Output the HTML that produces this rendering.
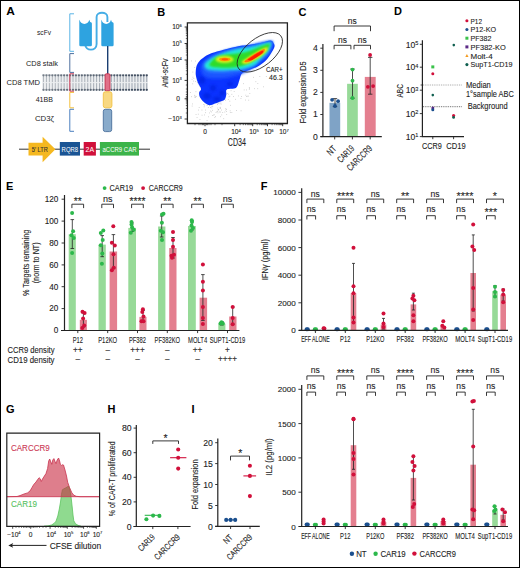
<!DOCTYPE html>
<html><head><meta charset="utf-8">
<style>
html,body{margin:0;padding:0;background:#fff;}
svg{display:block;}
text{font-family:"Liberation Sans",sans-serif;stroke:#222;stroke-width:0.1px;}
text[font-weight="bold"],text[stroke="none"],g[stroke="none"] text{stroke:none;}
text[fill="#cc3a55"]{stroke:#cc3a55;}
text[fill="#55c160"]{stroke:#55c160;}
</style></head><body>
<svg width="520" height="568" viewBox="0 0 520 568">
<defs>
<filter id="bl1" x="-20%" y="-20%" width="140%" height="140%"><feGaussianBlur stdDeviation="0.7"/></filter><filter id="bl2" x="-20%" y="-20%" width="140%" height="140%"><feGaussianBlur stdDeviation="1.0"/></filter><filter id="bl3" x="-30%" y="-30%" width="160%" height="160%"><feGaussianBlur stdDeviation="1.8"/></filter>
</defs>
<rect x="0" y="0" width="520" height="568" fill="#fff"/>


<!-- ============ PANEL A ============ -->
<g id="A">
<text x="6.3" y="15.4" font-size="11" font-weight="bold" stroke="none" textLength="8.6" lengthAdjust="spacingAndGlyphs">A</text>
<g font-size="7.8" fill="#222" stroke="none">
<text x="37" y="34.6" textLength="14" lengthAdjust="spacingAndGlyphs">scFv</text>
<text x="26" y="66" textLength="32" lengthAdjust="spacingAndGlyphs">CD8 stalk</text>
<text x="6.5" y="85.4" textLength="33.5" lengthAdjust="spacingAndGlyphs">CD8 TMD</text>
<text x="35.7" y="101.7" textLength="17.3" lengthAdjust="spacingAndGlyphs">41BB</text>
<text x="35" y="120.5" textLength="19" lengthAdjust="spacingAndGlyphs">CD3ζ</text>
</g>
<!-- membrane -->
<g><rect x="42" y="74" width="106" height="17" fill="#eceef0"/><rect x="43.00" y="75.5" width="1" height="6.6" fill="#b4b9bf"/><rect x="43.00" y="83.1" width="1" height="6.6" fill="#b4b9bf"/><circle cx="43.50" cy="75.3" r="1.15" fill="#737c87"/><circle cx="43.50" cy="89.8" r="1.15" fill="#737c87"/><rect x="45.95" y="75.5" width="1" height="6.6" fill="#b3b8be"/><rect x="45.95" y="83.1" width="1" height="6.6" fill="#b3b8be"/><circle cx="46.45" cy="75.3" r="1.15" fill="#727b86"/><circle cx="46.45" cy="89.8" r="1.15" fill="#727b86"/><rect x="48.90" y="75.5" width="1" height="6.6" fill="#b2b8be"/><rect x="48.90" y="83.1" width="1" height="6.6" fill="#b2b8be"/><circle cx="49.40" cy="75.3" r="1.15" fill="#707985"/><circle cx="49.40" cy="89.8" r="1.15" fill="#707985"/><rect x="51.85" y="75.5" width="1" height="6.6" fill="#b2b7bd"/><rect x="51.85" y="83.1" width="1" height="6.6" fill="#b2b7bd"/><circle cx="52.35" cy="75.3" r="1.15" fill="#6f7883"/><circle cx="52.35" cy="89.8" r="1.15" fill="#6f7883"/><rect x="54.80" y="75.5" width="1" height="6.6" fill="#b1b6bd"/><rect x="54.80" y="83.1" width="1" height="6.6" fill="#b1b6bd"/><circle cx="55.30" cy="75.3" r="1.15" fill="#6d7782"/><circle cx="55.30" cy="89.8" r="1.15" fill="#6d7782"/><rect x="57.75" y="75.5" width="1" height="6.6" fill="#b0b6bc"/><rect x="57.75" y="83.1" width="1" height="6.6" fill="#b0b6bc"/><circle cx="58.25" cy="75.3" r="1.15" fill="#6c7581"/><circle cx="58.25" cy="89.8" r="1.15" fill="#6c7581"/><rect x="60.70" y="75.5" width="1" height="6.6" fill="#afb5bc"/><rect x="60.70" y="83.1" width="1" height="6.6" fill="#afb5bc"/><circle cx="61.20" cy="75.3" r="1.15" fill="#6a7480"/><circle cx="61.20" cy="89.8" r="1.15" fill="#6a7480"/><rect x="63.65" y="75.5" width="1" height="6.6" fill="#aeb4bb"/><rect x="63.65" y="83.1" width="1" height="6.6" fill="#aeb4bb"/><circle cx="64.15" cy="75.3" r="1.15" fill="#69727f"/><circle cx="64.15" cy="89.8" r="1.15" fill="#69727f"/><rect x="66.60" y="75.5" width="1" height="6.6" fill="#aeb4bb"/><rect x="66.60" y="83.1" width="1" height="6.6" fill="#aeb4bb"/><circle cx="67.10" cy="75.3" r="1.15" fill="#67717e"/><circle cx="67.10" cy="89.8" r="1.15" fill="#67717e"/><rect x="69.55" y="75.5" width="1" height="6.6" fill="#adb3ba"/><rect x="69.55" y="83.1" width="1" height="6.6" fill="#adb3ba"/><circle cx="70.05" cy="75.3" r="1.15" fill="#66707c"/><circle cx="70.05" cy="89.8" r="1.15" fill="#66707c"/><rect x="72.50" y="75.5" width="1" height="6.6" fill="#acb2ba"/><rect x="72.50" y="83.1" width="1" height="6.6" fill="#acb2ba"/><circle cx="73.00" cy="75.3" r="1.15" fill="#646e7b"/><circle cx="73.00" cy="89.8" r="1.15" fill="#646e7b"/><rect x="75.45" y="75.5" width="1" height="6.6" fill="#abb1b9"/><rect x="75.45" y="83.1" width="1" height="6.6" fill="#abb1b9"/><circle cx="75.95" cy="75.3" r="1.15" fill="#636d7a"/><circle cx="75.95" cy="89.8" r="1.15" fill="#636d7a"/><rect x="78.40" y="75.5" width="1" height="6.6" fill="#aab1b8"/><rect x="78.40" y="83.1" width="1" height="6.6" fill="#aab1b8"/><circle cx="78.90" cy="75.3" r="1.15" fill="#616c79"/><circle cx="78.90" cy="89.8" r="1.15" fill="#616c79"/><rect x="81.35" y="75.5" width="1" height="6.6" fill="#aab0b8"/><rect x="81.35" y="83.1" width="1" height="6.6" fill="#aab0b8"/><circle cx="81.85" cy="75.3" r="1.15" fill="#606a78"/><circle cx="81.85" cy="89.8" r="1.15" fill="#606a78"/><rect x="84.30" y="75.5" width="1" height="6.6" fill="#a9afb7"/><rect x="84.30" y="83.1" width="1" height="6.6" fill="#a9afb7"/><circle cx="84.80" cy="75.3" r="1.15" fill="#5e6977"/><circle cx="84.80" cy="89.8" r="1.15" fill="#5e6977"/><rect x="87.25" y="75.5" width="1" height="6.6" fill="#a8afb7"/><rect x="87.25" y="83.1" width="1" height="6.6" fill="#a8afb7"/><circle cx="87.75" cy="75.3" r="1.15" fill="#5d6775"/><circle cx="87.75" cy="89.8" r="1.15" fill="#5d6775"/><rect x="90.20" y="75.5" width="1" height="6.6" fill="#a7aeb6"/><rect x="90.20" y="83.1" width="1" height="6.6" fill="#a7aeb6"/><circle cx="90.70" cy="75.3" r="1.15" fill="#5b6674"/><circle cx="90.70" cy="89.8" r="1.15" fill="#5b6674"/><rect x="93.15" y="75.5" width="1" height="6.6" fill="#a6adb6"/><rect x="93.15" y="83.1" width="1" height="6.6" fill="#a6adb6"/><circle cx="93.65" cy="75.3" r="1.15" fill="#5a6573"/><circle cx="93.65" cy="89.8" r="1.15" fill="#5a6573"/><rect x="96.10" y="75.5" width="1" height="6.6" fill="#a6adb5"/><rect x="96.10" y="83.1" width="1" height="6.6" fill="#a6adb5"/><circle cx="96.60" cy="75.3" r="1.15" fill="#586372"/><circle cx="96.60" cy="89.8" r="1.15" fill="#586372"/><rect x="99.05" y="75.5" width="1" height="6.6" fill="#a5acb5"/><rect x="99.05" y="83.1" width="1" height="6.6" fill="#a5acb5"/><circle cx="99.55" cy="75.3" r="1.15" fill="#576271"/><circle cx="99.55" cy="89.8" r="1.15" fill="#576271"/><rect x="102.00" y="75.5" width="1" height="6.6" fill="#a4abb4"/><rect x="102.00" y="83.1" width="1" height="6.6" fill="#a4abb4"/><circle cx="102.50" cy="75.3" r="1.15" fill="#556170"/><circle cx="102.50" cy="89.8" r="1.15" fill="#556170"/><rect x="104.95" y="75.5" width="1" height="6.6" fill="#a3abb4"/><rect x="104.95" y="83.1" width="1" height="6.6" fill="#a3abb4"/><circle cx="105.45" cy="75.3" r="1.15" fill="#545f6e"/><circle cx="105.45" cy="89.8" r="1.15" fill="#545f6e"/><rect x="107.90" y="75.5" width="1" height="6.6" fill="#a2aab3"/><rect x="107.90" y="83.1" width="1" height="6.6" fill="#a2aab3"/><circle cx="108.40" cy="75.3" r="1.15" fill="#525e6d"/><circle cx="108.40" cy="89.8" r="1.15" fill="#525e6d"/><rect x="110.85" y="75.5" width="1" height="6.6" fill="#a2a9b3"/><rect x="110.85" y="83.1" width="1" height="6.6" fill="#a2a9b3"/><circle cx="111.35" cy="75.3" r="1.15" fill="#515c6c"/><circle cx="111.35" cy="89.8" r="1.15" fill="#515c6c"/><rect x="113.80" y="75.5" width="1" height="6.6" fill="#a1a9b2"/><rect x="113.80" y="83.1" width="1" height="6.6" fill="#a1a9b2"/><circle cx="114.30" cy="75.3" r="1.15" fill="#4f5b6b"/><circle cx="114.30" cy="89.8" r="1.15" fill="#4f5b6b"/><rect x="116.75" y="75.5" width="1" height="6.6" fill="#a0a8b1"/><rect x="116.75" y="83.1" width="1" height="6.6" fill="#a0a8b1"/><circle cx="117.25" cy="75.3" r="1.15" fill="#4e5a6a"/><circle cx="117.25" cy="89.8" r="1.15" fill="#4e5a6a"/><rect x="119.70" y="75.5" width="1" height="6.6" fill="#9fa7b1"/><rect x="119.70" y="83.1" width="1" height="6.6" fill="#9fa7b1"/><circle cx="120.20" cy="75.3" r="1.15" fill="#4c5869"/><circle cx="120.20" cy="89.8" r="1.15" fill="#4c5869"/><rect x="122.65" y="75.5" width="1" height="6.6" fill="#9ea6b0"/><rect x="122.65" y="83.1" width="1" height="6.6" fill="#9ea6b0"/><circle cx="123.15" cy="75.3" r="1.15" fill="#4b5767"/><circle cx="123.15" cy="89.8" r="1.15" fill="#4b5767"/><rect x="125.60" y="75.5" width="1" height="6.6" fill="#9ea6b0"/><rect x="125.60" y="83.1" width="1" height="6.6" fill="#9ea6b0"/><circle cx="126.10" cy="75.3" r="1.15" fill="#495666"/><circle cx="126.10" cy="89.8" r="1.15" fill="#495666"/><rect x="128.55" y="75.5" width="1" height="6.6" fill="#9da5af"/><rect x="128.55" y="83.1" width="1" height="6.6" fill="#9da5af"/><circle cx="129.05" cy="75.3" r="1.15" fill="#485465"/><circle cx="129.05" cy="89.8" r="1.15" fill="#485465"/><rect x="131.50" y="75.5" width="1" height="6.6" fill="#9ca4af"/><rect x="131.50" y="83.1" width="1" height="6.6" fill="#9ca4af"/><circle cx="132.00" cy="75.3" r="1.15" fill="#465364"/><circle cx="132.00" cy="89.8" r="1.15" fill="#465364"/><rect x="134.45" y="75.5" width="1" height="6.6" fill="#9ba4ae"/><rect x="134.45" y="83.1" width="1" height="6.6" fill="#9ba4ae"/><circle cx="134.95" cy="75.3" r="1.15" fill="#455163"/><circle cx="134.95" cy="89.8" r="1.15" fill="#455163"/><rect x="137.40" y="75.5" width="1" height="6.6" fill="#9aa3ae"/><rect x="137.40" y="83.1" width="1" height="6.6" fill="#9aa3ae"/><circle cx="137.90" cy="75.3" r="1.15" fill="#435062"/><circle cx="137.90" cy="89.8" r="1.15" fill="#435062"/><rect x="140.35" y="75.5" width="1" height="6.6" fill="#9aa2ad"/><rect x="140.35" y="83.1" width="1" height="6.6" fill="#9aa2ad"/><circle cx="140.85" cy="75.3" r="1.15" fill="#424f60"/><circle cx="140.85" cy="89.8" r="1.15" fill="#424f60"/><rect x="143.30" y="75.5" width="1" height="6.6" fill="#99a2ad"/><rect x="143.30" y="83.1" width="1" height="6.6" fill="#99a2ad"/><circle cx="143.80" cy="75.3" r="1.15" fill="#404d5f"/><circle cx="143.80" cy="89.8" r="1.15" fill="#404d5f"/><rect x="146.25" y="75.5" width="1" height="6.6" fill="#98a1ac"/><rect x="146.25" y="83.1" width="1" height="6.6" fill="#98a1ac"/><circle cx="146.75" cy="75.3" r="1.15" fill="#3f4c5e"/><circle cx="146.75" cy="89.8" r="1.15" fill="#3f4c5e"/></g>
<!-- brackets -->
<g fill="none" stroke-width="1">
<path d="M74,13.8 H69.8 V51.3 H74" stroke="#5ab4e6"/>
<path d="M74,53.6 H69.8 V72.4 H74" stroke="#4d6f9e"/>
<path d="M74,73.8 H69.8 V91.2 H74" stroke="#d0405c"/>
<path d="M74,92.4 H69.8 V107.8 H74" stroke="#f4c13e"/>
<path d="M74,109.3 H69.8 V131.3 H74" stroke="#4a7fbf"/>
</g>
<!-- scFv -->
<path d="M85.2,44 C85.2,51.5 96.6,51.5 96.6,44 V17 C96.6,11.3 107.4,11.3 107.4,17 V22" fill="none" stroke="#45ade6" stroke-width="1.9"/>
<path d="M79.3,20.3 L79.5,19.8 Q80.5,23.6 84.4,23.9 Q88.30000000000001,23.6 89.30000000000001,19.7 L90.20000000000002,21.9 Q91.9,22.3 91.9,23.5 V45 Q91.9,46.2 90.60000000000001,46.2 H80.6 Q79.3,46.2 79.3,45 Z" fill="#2ea3e0"/>
<path d="M101.3,20.3 L101.5,19.8 Q102.5,23.6 106.2,23.9 Q110.0,23.6 111.0,19.7 L111.9,21.9 Q113.6,22.3 113.6,23.5 V45 Q113.6,46.2 112.3,46.2 H102.6 Q101.3,46.2 101.3,45 Z" fill="#2ea3e0"/>
<line x1="107.7" y1="46" x2="107.7" y2="74" stroke="#1b3f72" stroke-width="1.4"/>
<rect x="105.1" y="73.8" width="4.9" height="17" rx="1.2" fill="#e07088" stroke="#c8324f" stroke-width="0.9"/>
<rect x="103.3" y="91.8" width="8.6" height="16" rx="2" fill="#f8d882" stroke="#f2c242" stroke-width="0.9"/>
<rect x="103.3" y="109.3" width="8.4" height="22.3" rx="2" fill="#89abcb" stroke="#4a6f9c" stroke-width="0.9"/>
<!-- construct -->
<line x1="19" y1="149.2" x2="150" y2="149.2" stroke="#333" stroke-width="1"/>
<path d="M28.5,142.8 H42.6 V136.7 L55.4,149.2 L42.6,162.3 V155.6 H28.5 Z" fill="#f5b820"/>
<text x="31.8" y="151.6" font-size="6.5" fill="#333" textLength="16" lengthAdjust="spacingAndGlyphs">5' LTR</text>
<rect x="59.8" y="142" width="20.2" height="13.6" fill="#1a5494"/>
<text x="61.6" y="151.6" font-size="6.5" fill="#fff" stroke="none" textLength="16.5" lengthAdjust="spacingAndGlyphs">RQR8</text>
<rect x="83.7" y="142" width="12.2" height="13.6" fill="#d0103a"/>
<text x="85.6" y="151.6" font-size="6.5" fill="#fff" stroke="none" textLength="8.5" lengthAdjust="spacingAndGlyphs">2A</text>
<rect x="99.9" y="142" width="39.1" height="13.6" fill="#3cb44a"/>
<text x="102.5" y="151.6" font-size="6.5" fill="#fff" stroke="none" textLength="34" lengthAdjust="spacingAndGlyphs">aCCR9 CAR</text>
</g>


<g id="B">
<text x="157.3" y="15.5" font-size="11" font-weight="bold">B</text>
<g fill="#7a7a7a" opacity="0.6"><rect x="211.2" y="111.6" width="0.7" height="0.7"/><rect x="211.5" y="105.8" width="0.7" height="0.7"/><rect x="203.8" y="106.5" width="0.7" height="0.7"/><rect x="226.2" y="111.0" width="0.7" height="0.7"/><rect x="225.4" y="109.7" width="0.7" height="0.7"/><rect x="218.3" y="109.3" width="0.7" height="0.7"/><rect x="195.7" y="114.0" width="0.7" height="0.7"/><rect x="219.6" y="111.5" width="0.7" height="0.7"/><rect x="195.4" y="95.8" width="0.7" height="0.7"/><rect x="204.2" y="104.7" width="0.7" height="0.7"/><rect x="217.4" y="107.7" width="0.7" height="0.7"/><rect x="219.7" y="103.5" width="0.7" height="0.7"/><rect x="217.4" y="110.8" width="0.7" height="0.7"/><rect x="206.7" y="120.0" width="0.7" height="0.7"/><rect x="220.1" y="116.4" width="0.7" height="0.7"/><rect x="207.2" y="102.8" width="0.7" height="0.7"/><rect x="210.2" y="107.3" width="0.7" height="0.7"/><rect x="221.0" y="109.7" width="0.7" height="0.7"/><rect x="209.1" y="101.3" width="0.7" height="0.7"/><rect x="208.3" y="116.5" width="0.7" height="0.7"/><rect x="205.1" y="109.7" width="0.7" height="0.7"/><rect x="218.7" y="97.6" width="0.7" height="0.7"/><rect x="214.5" y="117.1" width="0.7" height="0.7"/><rect x="191.8" y="105.7" width="0.7" height="0.7"/><rect x="212.8" y="102.3" width="0.7" height="0.7"/><rect x="219.5" y="107.6" width="0.7" height="0.7"/><rect x="197.9" y="113.8" width="0.7" height="0.7"/><rect x="221.4" y="114.6" width="0.7" height="0.7"/><rect x="229.8" y="110.5" width="0.7" height="0.7"/><rect x="215.3" y="98.9" width="0.7" height="0.7"/><rect x="220.8" y="103.7" width="0.7" height="0.7"/><rect x="209.0" y="99.1" width="0.7" height="0.7"/><rect x="203.4" y="104.3" width="0.7" height="0.7"/><rect x="228.2" y="93.8" width="0.7" height="0.7"/><rect x="198.0" y="109.7" width="0.7" height="0.7"/><rect x="229.9" y="112.0" width="0.7" height="0.7"/><rect x="217.9" y="102.8" width="0.7" height="0.7"/><rect x="201.7" y="114.8" width="0.7" height="0.7"/><rect x="226.1" y="109.1" width="0.7" height="0.7"/><rect x="216.7" y="111.0" width="0.7" height="0.7"/><rect x="231.5" y="112.3" width="0.7" height="0.7"/><rect x="219.7" y="111.8" width="0.7" height="0.7"/><rect x="196.7" y="117.0" width="0.7" height="0.7"/><rect x="224.5" y="111.7" width="0.7" height="0.7"/><rect x="192.3" y="103.6" width="0.7" height="0.7"/><rect x="223.3" y="95.3" width="0.7" height="0.7"/><rect x="212.0" y="115.1" width="0.7" height="0.7"/><rect x="199.6" y="119.3" width="0.7" height="0.7"/><rect x="220.1" y="106.9" width="0.7" height="0.7"/><rect x="217.6" y="112.5" width="0.7" height="0.7"/><rect x="215.3" y="116.0" width="0.7" height="0.7"/><rect x="206.7" y="105.1" width="0.7" height="0.7"/><rect x="225.5" y="108.2" width="0.7" height="0.7"/><rect x="204.3" y="114.6" width="0.7" height="0.7"/><rect x="230.1" y="104.9" width="0.7" height="0.7"/><rect x="198.8" y="107.1" width="0.7" height="0.7"/><rect x="212.4" y="105.9" width="0.7" height="0.7"/><rect x="229.5" y="100.8" width="0.7" height="0.7"/><rect x="227.9" y="99.1" width="0.7" height="0.7"/><rect x="205.3" y="112.4" width="0.7" height="0.7"/><rect x="226.4" y="114.0" width="0.7" height="0.7"/><rect x="217.8" y="109.0" width="0.7" height="0.7"/><rect x="215.7" y="112.0" width="0.7" height="0.7"/><rect x="212.1" y="109.9" width="0.7" height="0.7"/><rect x="220.3" y="108.0" width="0.7" height="0.7"/><rect x="222.4" y="112.0" width="0.7" height="0.7"/><rect x="236.1" y="110.3" width="0.7" height="0.7"/><rect x="209.3" y="105.4" width="0.7" height="0.7"/><rect x="213.9" y="114.5" width="0.7" height="0.7"/><rect x="210.3" y="110.7" width="0.7" height="0.7"/><rect x="201.6" y="109.7" width="0.7" height="0.7"/><rect x="218.4" y="109.7" width="0.7" height="0.7"/><rect x="209.3" y="112.6" width="0.7" height="0.7"/><rect x="217.1" y="104.3" width="0.7" height="0.7"/><rect x="240.7" y="110.5" width="0.7" height="0.7"/><rect x="207.9" y="107.3" width="0.7" height="0.7"/><rect x="211.5" y="107.6" width="0.7" height="0.7"/><rect x="225.1" y="99.8" width="0.7" height="0.7"/><rect x="213.3" y="114.7" width="0.7" height="0.7"/><rect x="223.4" y="118.4" width="0.7" height="0.7"/><rect x="238.3" y="95.6" width="0.7" height="0.7"/><rect x="233.2" y="84.5" width="0.7" height="0.7"/><rect x="245.3" y="99.7" width="0.7" height="0.7"/><rect x="246.3" y="96.1" width="0.7" height="0.7"/><rect x="245.5" y="94.8" width="0.7" height="0.7"/><rect x="230.7" y="90.4" width="0.7" height="0.7"/><rect x="233.9" y="80.6" width="0.7" height="0.7"/><rect x="225.7" y="85.6" width="0.7" height="0.7"/><rect x="231.5" y="93.9" width="0.7" height="0.7"/><rect x="248.9" y="88.9" width="0.7" height="0.7"/><rect x="248.4" y="99.8" width="0.7" height="0.7"/><rect x="248.9" y="87.3" width="0.7" height="0.7"/><rect x="230.5" y="84.5" width="0.7" height="0.7"/><rect x="229.9" y="84.1" width="0.7" height="0.7"/><rect x="240.6" y="98.0" width="0.7" height="0.7"/><rect x="246.0" y="89.6" width="0.7" height="0.7"/><rect x="241.3" y="96.0" width="0.7" height="0.7"/><rect x="227.1" y="93.2" width="0.7" height="0.7"/><rect x="247.7" y="95.6" width="0.7" height="0.7"/><rect x="243.8" y="89.6" width="0.7" height="0.7"/><rect x="229.5" y="95.8" width="0.7" height="0.7"/><rect x="233.3" y="96.0" width="0.7" height="0.7"/><rect x="249.3" y="87.9" width="0.7" height="0.7"/><rect x="235.0" y="98.9" width="0.7" height="0.7"/><rect x="243.1" y="83.4" width="0.7" height="0.7"/><rect x="228.2" y="83.0" width="0.7" height="0.7"/><rect x="247.6" y="96.1" width="0.7" height="0.7"/><rect x="228.7" y="96.5" width="0.7" height="0.7"/><rect x="249.5" y="93.1" width="0.7" height="0.7"/><rect x="233.8" y="91.0" width="0.7" height="0.7"/><rect x="191.3" y="60.6" width="0.7" height="0.7"/><rect x="199.7" y="86.0" width="0.7" height="0.7"/><rect x="195.3" y="97.3" width="0.7" height="0.7"/><rect x="194.3" y="94.9" width="0.7" height="0.7"/><rect x="198.3" y="68.4" width="0.7" height="0.7"/><rect x="192.5" y="71.7" width="0.7" height="0.7"/><rect x="192.4" y="83.5" width="0.7" height="0.7"/><rect x="192.6" y="76.8" width="0.7" height="0.7"/><rect x="191.3" y="96.4" width="0.7" height="0.7"/><rect x="193.5" y="78.3" width="0.7" height="0.7"/><rect x="195.8" y="96.2" width="0.7" height="0.7"/><rect x="194.2" y="96.7" width="0.7" height="0.7"/><rect x="195.0" y="81.3" width="0.7" height="0.7"/><rect x="195.2" y="60.7" width="0.7" height="0.7"/><rect x="194.4" y="67.3" width="0.7" height="0.7"/><rect x="190.0" y="92.0" width="0.7" height="0.7"/><rect x="191.7" y="78.9" width="0.7" height="0.7"/><rect x="197.3" y="82.3" width="0.7" height="0.7"/><rect x="193.3" y="80.7" width="0.7" height="0.7"/><rect x="195.6" y="91.4" width="0.7" height="0.7"/><rect x="239.2" y="77.7" width="0.7" height="0.7"/><rect x="244.9" y="69.8" width="0.7" height="0.7"/><rect x="265.9" y="76.2" width="0.7" height="0.7"/><rect x="257.5" y="83.3" width="0.7" height="0.7"/><rect x="271.5" y="74.4" width="0.7" height="0.7"/><rect x="259.5" y="76.2" width="0.7" height="0.7"/><rect x="255.5" y="81.4" width="0.7" height="0.7"/><rect x="253.1" y="76.9" width="0.7" height="0.7"/><rect x="254.1" y="88.4" width="0.7" height="0.7"/><rect x="263.0" y="86.5" width="0.7" height="0.7"/><rect x="272.7" y="69.3" width="0.7" height="0.7"/><rect x="257.4" y="88.4" width="0.7" height="0.7"/><rect x="268.6" y="65.8" width="0.7" height="0.7"/><rect x="239.9" y="74.4" width="0.7" height="0.7"/><rect x="237.9" y="68.7" width="0.7" height="0.7"/></g>
<path d="M273.5,42.9 C272.8,41.9 272.4,40.5 270.2,40.5 C268.0,40.5 264.8,42.1 260.4,42.9 C256.0,43.7 247.3,44.9 244.0,45.4 C240.7,45.9 243.5,45.2 240.8,45.8 C238.1,46.3 232.6,47.5 227.7,48.7 C222.8,50.0 215.4,51.8 211.3,53.3 C207.2,54.8 205.1,56.5 203.0,58.0 C200.9,59.5 199.6,60.7 198.5,62.3 C197.4,63.9 196.6,65.4 196.2,67.5 C195.8,69.6 195.5,72.4 195.8,75.0 C196.1,77.6 197.2,80.8 198.1,83.1 C199.0,85.4 200.8,87.4 201.0,88.9 C201.2,90.4 199.4,91.0 199.2,92.3 C199.0,93.6 199.0,95.3 199.8,96.9 C200.6,98.5 202.4,100.8 203.8,102.1 C205.2,103.4 207.0,104.6 208.5,105.0 C210.0,105.4 211.3,104.9 213.0,104.4 C214.7,103.9 216.9,102.9 218.8,102.1 C220.7,101.3 223.3,101.0 224.6,99.8 C225.8,98.5 225.9,96.3 226.3,94.6 C226.7,92.9 225.2,90.6 226.9,89.4 C228.6,88.2 234.1,89.3 236.2,87.7 C238.3,86.1 238.6,82.0 239.6,79.6 C240.6,77.2 240.3,75.1 242.0,73.5 C243.7,71.9 247.0,71.0 249.6,69.8 C252.2,68.6 255.0,68.0 257.7,66.4 C260.4,64.9 263.4,62.9 265.8,60.5 C268.2,58.1 270.4,54.3 271.8,52.0 C273.2,49.7 274.2,48.0 274.5,46.5 C274.8,45.0 274.2,43.9 273.5,42.9Z" fill="#0a33ff"/>
<g filter="url(#bl3)" fill="#0620e0" opacity="0.8"><ellipse cx="207" cy="96" rx="4" ry="3"/><ellipse cx="217" cy="99" rx="4" ry="2.5"/><ellipse cx="213" cy="88" rx="3" ry="3"/><ellipse cx="222" cy="93" rx="2.5" ry="2.5"/><ellipse cx="230" cy="84" rx="3" ry="2"/><ellipse cx="202" cy="80" rx="3" ry="4"/></g>
<path d="M201.0,66.0 C201.7,63.0 204.5,60.3 208.0,58.0 C211.5,55.7 217.3,53.6 222.0,52.0 C226.7,50.4 231.5,49.5 236.0,48.5 C240.5,47.5 245.0,46.9 249.0,46.0 C253.0,45.1 256.3,44.0 260.0,43.2 C263.7,42.5 268.9,41.2 271.0,41.5 C273.1,41.8 273.0,42.8 272.5,45.0 C272.0,47.2 270.1,52.1 268.0,55.0 C265.9,57.9 262.7,60.2 260.0,62.5 C257.3,64.8 255.2,66.6 252.0,68.5 C248.8,70.4 245.0,72.5 241.0,74.0 C237.0,75.5 232.5,76.8 228.0,77.5 C223.5,78.2 218.0,78.8 214.0,78.5 C210.0,78.2 206.2,78.1 204.0,76.0 C201.8,73.9 200.3,69.0 201.0,66.0Z" fill="#1a55ff" filter="url(#bl3)"/>
<path d="M203.0,64.5 C203.6,62.2 206.8,59.7 210.0,57.5 C213.2,55.3 217.7,53.1 222.0,51.5 C226.3,49.9 231.5,48.8 236.0,47.8 C240.5,46.8 245.0,46.6 249.0,45.8 C253.0,45.0 256.2,43.6 260.0,42.8 C263.8,42.0 269.4,40.5 271.5,40.8 C273.6,41.1 272.9,42.4 272.5,44.5 C272.1,46.6 270.8,50.9 269.0,53.5 C267.2,56.1 264.5,57.8 262.0,60.0 C259.5,62.2 257.2,64.7 254.0,66.5 C250.8,68.3 247.0,69.6 243.0,70.6 C239.0,71.6 234.5,72.1 230.0,72.5 C225.5,72.9 219.9,73.2 216.0,73.0 C212.1,72.8 208.7,72.9 206.5,71.5 C204.3,70.1 202.4,66.8 203.0,64.5Z" fill="#2676ff" filter="url(#bl2)"/>
<path d="M205.0,64.2 C205.8,62.4 208.8,60.1 212.0,58.2 C215.2,56.3 220.0,54.5 224.0,53.0 C228.0,51.5 231.8,50.3 236.0,49.4 C240.2,48.5 245.0,48.4 249.0,47.6 C253.0,46.8 256.5,45.6 260.0,44.8 C263.5,44.0 268.4,42.4 270.2,42.6 C271.9,42.8 271.0,44.3 270.5,46.0 C270.0,47.7 268.8,50.5 267.0,52.7 C265.2,55.0 262.2,57.4 260.0,59.5 C257.8,61.6 257.0,63.7 253.8,65.3 C250.6,66.9 245.2,68.4 240.8,69.2 C236.5,70.0 232.1,70.0 227.7,70.2 C223.3,70.4 218.0,70.5 214.6,70.3 C211.2,70.1 208.6,69.8 207.0,68.8 C205.4,67.8 204.2,66.0 205.0,64.2Z" fill="#22e6dc" filter="url(#bl2)"/>
<path d="M209.5,64.2 C210.3,62.7 213.6,58.8 216.0,57.3 C218.4,55.8 220.8,55.6 224.0,55.0 C227.2,54.4 231.5,54.2 235.0,53.8 C238.5,53.3 241.7,53.1 245.0,52.3 C248.3,51.5 251.8,50.0 255.0,48.8 C258.2,47.6 261.6,46.1 264.0,45.3 C266.4,44.5 268.9,43.2 269.6,43.8 C270.3,44.3 269.4,46.6 268.0,48.6 C266.6,50.6 263.6,53.6 261.0,55.8 C258.4,57.9 255.3,59.9 252.5,61.5 C249.7,63.1 246.9,64.2 244.0,65.2 C241.1,66.2 238.3,66.8 235.0,67.2 C231.7,67.6 227.3,67.8 224.0,67.8 C220.7,67.8 217.2,67.5 215.0,67.3 C212.8,67.0 211.9,66.8 211.0,66.3 C210.1,65.8 208.7,65.7 209.5,64.2Z" fill="#2edc2a" filter="url(#bl2)"/>
<ellipse cx="224.6" cy="59.4" rx="9" ry="3.6" fill="#d6f01c" filter="url(#bl2)"/>
<path d="M241.5,62.2 C241.7,61.2 244.8,59.5 247.0,58.0 C249.2,56.5 252.5,54.5 255.0,53.0 C257.5,51.5 260.0,50.0 262.0,49.0 C264.0,48.0 266.3,47.0 267.2,47.2 C268.1,47.4 268.2,48.9 267.2,50.4 C266.2,51.9 263.4,54.4 261.0,56.2 C258.6,58.0 255.5,59.7 253.0,61.0 C250.5,62.3 247.9,63.6 246.0,63.8 C244.1,64.0 241.3,63.2 241.5,62.2Z" fill="#f2ec12" filter="url(#bl2)"/>
<ellipse cx="224.8" cy="59.3" rx="5.8" ry="1.9" fill="#ff9a00" filter="url(#bl1)"/>
<path d="M244.5,61.2 C244.9,60.4 247.5,58.6 249.5,57.2 C251.5,55.8 254.1,54.2 256.5,52.8 C258.9,51.4 262.8,49.1 264.0,49.0 C265.2,48.9 265.0,50.9 264.0,52.2 C263.0,53.5 260.1,55.4 258.0,56.8 C255.9,58.2 253.3,59.7 251.5,60.6 C249.7,61.5 248.2,62.2 247.0,62.3 C245.8,62.4 244.1,62.1 244.5,61.2Z" fill="#ff7800" filter="url(#bl1)"/>
<ellipse cx="224.8" cy="59.3" rx="3.2" ry="1.1" fill="#ff5a00" filter="url(#bl1)"/>
<path d="M247.5,59.8 C247.7,59.1 250.7,57.4 252.5,56.2 C254.3,55.0 256.8,53.5 258.5,52.6 C260.2,51.7 262.2,50.7 262.8,50.8 C263.4,50.9 263.3,52.2 262.3,53.2 C261.3,54.2 258.8,55.8 257.0,57.0 C255.2,58.2 253.1,59.7 251.5,60.2 C249.9,60.7 247.3,60.5 247.5,59.8Z" fill="#ff1e00" filter="url(#bl1)"/>
<ellipse cx="259.8" cy="52.3" rx="26.7" ry="13.9" transform="rotate(-38.1 259.8 52.3)" fill="none" stroke="#222" stroke-width="0.8"/>
<text x="282.6" y="71.6" font-size="8" text-anchor="end" fill="#222" textLength="16.6" lengthAdjust="spacingAndGlyphs">CAR+</text>
<text x="282.6" y="80.2" font-size="8" text-anchor="end" fill="#222" textLength="13.6" lengthAdjust="spacingAndGlyphs">46.3</text>
<path d="M187.4,22.9 H287.4 V123.5 H187.4 Z" fill="none" stroke="#222" stroke-width="1.3"/>
<line x1="184.6" y1="27" x2="187.4" y2="27" stroke="#222" stroke-width="0.9"/>
<text x="181.8" y="29.4" font-size="6.6" text-anchor="end" fill="#222">10<tspan font-size="4.1" dy="-2.5">6</tspan></text>
<line x1="184.6" y1="43.5" x2="187.4" y2="43.5" stroke="#222" stroke-width="0.9"/>
<text x="181.8" y="45.9" font-size="6.6" text-anchor="end" fill="#222">10<tspan font-size="4.1" dy="-2.5">5</tspan></text>
<line x1="184.6" y1="60" x2="187.4" y2="60" stroke="#222" stroke-width="0.9"/>
<text x="181.8" y="62.4" font-size="6.6" text-anchor="end" fill="#222">10<tspan font-size="4.1" dy="-2.5">4</tspan></text>
<line x1="184.6" y1="80.4" x2="187.4" y2="80.4" stroke="#222" stroke-width="0.9"/>
<text x="181.8" y="82.80000000000001" font-size="6.6" text-anchor="end" fill="#222">10<tspan font-size="4.1" dy="-2.5">3</tspan></text>
<line x1="184.6" y1="98.8" x2="187.4" y2="98.8" stroke="#222" stroke-width="0.9"/>
<text x="180" y="101.2" font-size="6.6" text-anchor="end" fill="#222">0</text>
<line x1="184.6" y1="119" x2="187.4" y2="119" stroke="#222" stroke-width="0.9"/>
<text x="181.8" y="121.4" font-size="6.6" text-anchor="end" fill="#222">−10<tspan font-size="4.1" dy="-2.5">3</tspan></text>
<g stroke="#222" stroke-width="0.6"><line x1="185.8" y1="38.5" x2="187.4" y2="38.5"/><line x1="185.8" y1="35.6" x2="187.4" y2="35.6"/><line x1="185.8" y1="33.6" x2="187.4" y2="33.6"/><line x1="185.8" y1="32.0" x2="187.4" y2="32.0"/><line x1="185.8" y1="30.7" x2="187.4" y2="30.7"/><line x1="185.8" y1="29.6" x2="187.4" y2="29.6"/><line x1="185.8" y1="28.6" x2="187.4" y2="28.6"/><line x1="185.8" y1="27.8" x2="187.4" y2="27.8"/><line x1="185.8" y1="55.0" x2="187.4" y2="55.0"/><line x1="185.8" y1="52.1" x2="187.4" y2="52.1"/><line x1="185.8" y1="50.1" x2="187.4" y2="50.1"/><line x1="185.8" y1="48.5" x2="187.4" y2="48.5"/><line x1="185.8" y1="47.2" x2="187.4" y2="47.2"/><line x1="185.8" y1="46.1" x2="187.4" y2="46.1"/><line x1="185.8" y1="45.1" x2="187.4" y2="45.1"/><line x1="185.8" y1="44.3" x2="187.4" y2="44.3"/><line x1="185.8" y1="74.3" x2="187.4" y2="74.3"/><line x1="185.8" y1="70.7" x2="187.4" y2="70.7"/><line x1="185.8" y1="68.1" x2="187.4" y2="68.1"/><line x1="185.8" y1="66.1" x2="187.4" y2="66.1"/><line x1="185.8" y1="64.5" x2="187.4" y2="64.5"/><line x1="185.8" y1="63.2" x2="187.4" y2="63.2"/><line x1="185.8" y1="62.0" x2="187.4" y2="62.0"/><line x1="185.8" y1="60.9" x2="187.4" y2="60.9"/><line x1="185.8" y1="85.0" x2="187.4" y2="85.0"/><line x1="185.8" y1="89.0" x2="187.4" y2="89.0"/><line x1="185.8" y1="92.0" x2="187.4" y2="92.0"/><line x1="185.8" y1="94.5" x2="187.4" y2="94.5"/><line x1="185.8" y1="96.5" x2="187.4" y2="96.5"/><line x1="185.8" y1="97.8" x2="187.4" y2="97.8"/><line x1="185.8" y1="99.8" x2="187.4" y2="99.8"/><line x1="185.8" y1="101.0" x2="187.4" y2="101.0"/><line x1="185.8" y1="103.0" x2="187.4" y2="103.0"/><line x1="185.8" y1="105.5" x2="187.4" y2="105.5"/><line x1="185.8" y1="108.5" x2="187.4" y2="108.5"/><line x1="185.8" y1="113.0" x2="187.4" y2="113.0"/></g>
<line x1="205" y1="123.5" x2="205" y2="126.2" stroke="#222" stroke-width="0.9"/>
<text x="205" y="134.4" font-size="6.6" text-anchor="middle" fill="#222">0</text>
<line x1="234.7" y1="123.5" x2="234.7" y2="126.2" stroke="#222" stroke-width="0.9"/>
<text x="236.0" y="134.4" font-size="6.6" text-anchor="middle" fill="#222">10<tspan font-size="4.1" dy="-2.5">4</tspan></text>
<line x1="252.7" y1="123.5" x2="252.7" y2="126.2" stroke="#222" stroke-width="0.9"/>
<text x="254.0" y="134.4" font-size="6.6" text-anchor="middle" fill="#222">10<tspan font-size="4.1" dy="-2.5">5</tspan></text>
<line x1="267.5" y1="123.5" x2="267.5" y2="126.2" stroke="#222" stroke-width="0.9"/>
<text x="268.8" y="134.4" font-size="6.6" text-anchor="middle" fill="#222">10<tspan font-size="4.1" dy="-2.5">6</tspan></text>
<line x1="282.7" y1="123.5" x2="282.7" y2="126.2" stroke="#222" stroke-width="0.9"/>
<text x="284.0" y="134.4" font-size="6.6" text-anchor="middle" fill="#222">10<tspan font-size="4.1" dy="-2.5">7</tspan></text>
<g stroke="#222" stroke-width="0.6"><line x1="195.0" y1="123.5" x2="195.0" y2="125.2"/><line x1="199.0" y1="123.5" x2="199.0" y2="125.2"/><line x1="201.0" y1="123.5" x2="201.0" y2="125.2"/><line x1="202.5" y1="123.5" x2="202.5" y2="125.2"/><line x1="203.5" y1="123.5" x2="203.5" y2="125.2"/><line x1="206.5" y1="123.5" x2="206.5" y2="125.2"/><line x1="207.5" y1="123.5" x2="207.5" y2="125.2"/><line x1="209.0" y1="123.5" x2="209.0" y2="125.2"/><line x1="211.0" y1="123.5" x2="211.0" y2="125.2"/><line x1="215.0" y1="123.5" x2="215.0" y2="125.2"/><line x1="222.0" y1="123.5" x2="222.0" y2="125.2"/><line x1="240.1" y1="123.5" x2="240.1" y2="125.2"/><line x1="243.3" y1="123.5" x2="243.3" y2="125.2"/><line x1="245.5" y1="123.5" x2="245.5" y2="125.2"/><line x1="247.3" y1="123.5" x2="247.3" y2="125.2"/><line x1="248.7" y1="123.5" x2="248.7" y2="125.2"/><line x1="249.9" y1="123.5" x2="249.9" y2="125.2"/><line x1="251.0" y1="123.5" x2="251.0" y2="125.2"/><line x1="251.9" y1="123.5" x2="251.9" y2="125.2"/><line x1="257.2" y1="123.5" x2="257.2" y2="125.2"/><line x1="259.8" y1="123.5" x2="259.8" y2="125.2"/><line x1="261.6" y1="123.5" x2="261.6" y2="125.2"/><line x1="263.0" y1="123.5" x2="263.0" y2="125.2"/><line x1="264.2" y1="123.5" x2="264.2" y2="125.2"/><line x1="265.2" y1="123.5" x2="265.2" y2="125.2"/><line x1="266.1" y1="123.5" x2="266.1" y2="125.2"/><line x1="266.8" y1="123.5" x2="266.8" y2="125.2"/><line x1="272.1" y1="123.5" x2="272.1" y2="125.2"/><line x1="274.8" y1="123.5" x2="274.8" y2="125.2"/><line x1="276.7" y1="123.5" x2="276.7" y2="125.2"/><line x1="278.1" y1="123.5" x2="278.1" y2="125.2"/><line x1="279.3" y1="123.5" x2="279.3" y2="125.2"/><line x1="280.3" y1="123.5" x2="280.3" y2="125.2"/><line x1="281.2" y1="123.5" x2="281.2" y2="125.2"/><line x1="282.0" y1="123.5" x2="282.0" y2="125.2"/></g>
<text x="236.8" y="146.4" font-size="10" text-anchor="middle" fill="#222" textLength="18" lengthAdjust="spacingAndGlyphs">CD34</text>
<text transform="translate(168.3 73.1) rotate(-90)" font-size="9.3" text-anchor="middle" fill="#222" textLength="29" lengthAdjust="spacingAndGlyphs">Anti-scFv</text>
</g>
<g id="C">
<text x="298.5" y="15.6" font-size="11" font-weight="bold">C</text>
<rect x="329.5" y="102.8" width="10.7" height="33.8" fill="#7fa3c6"/>
<rect x="347.1" y="83.8" width="10.7" height="52.8" fill="#97da98"/>
<rect x="364.8" y="76.9" width="10.9" height="59.7" fill="#e47f8f"/>
<path d="M335.0,98.6 V106.6 M332.8,98.6 H337.2 M332.8,106.6 H337.2" stroke="#222" stroke-width="0.8" fill="none"/>
<path d="M352.5,69.0 V98.2 M350.3,69.0 H354.7 M350.3,98.2 H354.7" stroke="#222" stroke-width="0.8" fill="none"/>
<path d="M370.2,57.4 V94.2 M368.0,57.4 H372.4 M368.0,94.2 H372.4" stroke="#222" stroke-width="0.8" fill="none"/>
<circle cx="332.1" cy="99.8" r="1.9" fill="#1b4f8e"/>
<circle cx="338.1" cy="101.2" r="1.9" fill="#1b4f8e"/>
<circle cx="335.0" cy="106.0" r="1.9" fill="#1b4f8e"/>
<circle cx="352.5" cy="69.6" r="1.9" fill="#2cb84b"/>
<circle cx="352.5" cy="80.7" r="1.9" fill="#2cb84b"/>
<circle cx="352.5" cy="98.0" r="1.9" fill="#2cb84b"/>
<circle cx="370.1" cy="55.0" r="1.9" fill="#d1103b"/>
<circle cx="367.9" cy="86.8" r="1.9" fill="#d1103b"/>
<circle cx="373.1" cy="86.1" r="1.9" fill="#d1103b"/>
<path d="M322.9,44.1 V136.6 M320.4,136.6 H381.8" stroke="#222" stroke-width="1.2" fill="none"/>
<line x1="320.3" y1="136.6" x2="322.9" y2="136.6" stroke="#222" stroke-width="0.9"/>
<text x="317.8" y="139.5" font-size="8.6" text-anchor="end" fill="#222">0</text>
<line x1="320.3" y1="114.5" x2="322.9" y2="114.5" stroke="#222" stroke-width="0.9"/>
<text x="317.8" y="117.4" font-size="8.6" text-anchor="end" fill="#222">1</text>
<line x1="320.3" y1="92.4" x2="322.9" y2="92.4" stroke="#222" stroke-width="0.9"/>
<text x="317.8" y="95.3" font-size="8.6" text-anchor="end" fill="#222">2</text>
<line x1="320.3" y1="70.3" x2="322.9" y2="70.3" stroke="#222" stroke-width="0.9"/>
<text x="317.8" y="73.2" font-size="8.6" text-anchor="end" fill="#222">3</text>
<line x1="320.3" y1="48.2" x2="322.9" y2="48.2" stroke="#222" stroke-width="0.9"/>
<text x="317.8" y="51.1" font-size="8.6" text-anchor="end" fill="#222">4</text>
<line x1="334.7" y1="136.6" x2="334.7" y2="139.4" stroke="#222" stroke-width="0.9"/>
<line x1="352.4" y1="136.6" x2="352.4" y2="139.4" stroke="#222" stroke-width="0.9"/>
<line x1="370.2" y1="136.6" x2="370.2" y2="139.4" stroke="#222" stroke-width="0.9"/>
<path d="M334.1,31.2 V26.0 H370.5 V31.2" fill="none" stroke="#222" stroke-width="0.9"/>
<path d="M334.1,49.3 V45.3 H350.9 V49.3" fill="none" stroke="#222" stroke-width="0.9"/>
<path d="M354.0,49.3 V45.3 H370.5 V49.3" fill="none" stroke="#222" stroke-width="0.9"/>
<text x="352.3" y="23.6" font-size="8.5" text-anchor="middle" fill="#222">ns</text>
<text x="342.6" y="43.2" font-size="8.5" text-anchor="middle" fill="#222">ns</text>
<text x="362.2" y="43.2" font-size="8.5" text-anchor="middle" fill="#222">ns</text>
<text transform="translate(306.4 92.3) rotate(-90)" font-size="8.9" text-anchor="middle" fill="#222" textLength="62" lengthAdjust="spacingAndGlyphs">Fold expansion D5</text>
<text transform="translate(337.2 149.2) rotate(-45)" font-size="9.4" text-anchor="end" fill="#222" textLength="9.5" lengthAdjust="spacingAndGlyphs">NT</text>
<text transform="translate(354.9 149.2) rotate(-45)" font-size="9.4" text-anchor="end" fill="#222" textLength="19.8" lengthAdjust="spacingAndGlyphs">CAR19</text>
<text transform="translate(372.7 149.2) rotate(-45)" font-size="9.4" text-anchor="end" fill="#222" textLength="31.5" lengthAdjust="spacingAndGlyphs">CARCCR9</text>
</g>
<g id="D">
<text x="394" y="15.4" font-size="11" font-weight="bold">D</text>
<path d="M422.4,40.3 V136.6 H464" stroke="#222" stroke-width="1.2" fill="none"/>
<line x1="419.8" y1="44.3" x2="422.4" y2="44.3" stroke="#222" stroke-width="0.9"/>
<text x="418.4" y="47.5" font-size="8.6" text-anchor="end" fill="#222">10<tspan font-size="5.6" dy="-2.9">5</tspan></text>
<line x1="419.8" y1="67.2" x2="422.4" y2="67.2" stroke="#222" stroke-width="0.9"/>
<text x="418.4" y="70.4" font-size="8.6" text-anchor="end" fill="#222">10<tspan font-size="5.6" dy="-2.9">4</tspan></text>
<line x1="419.8" y1="90.2" x2="422.4" y2="90.2" stroke="#222" stroke-width="0.9"/>
<text x="418.4" y="93.4" font-size="8.6" text-anchor="end" fill="#222">10<tspan font-size="5.6" dy="-2.9">3</tspan></text>
<line x1="419.8" y1="113.6" x2="422.4" y2="113.6" stroke="#222" stroke-width="0.9"/>
<text x="418.4" y="116.8" font-size="8.6" text-anchor="end" fill="#222">10<tspan font-size="5.6" dy="-2.9">2</tspan></text>
<line x1="419.8" y1="136.6" x2="422.4" y2="136.6" stroke="#222" stroke-width="0.9"/>
<text x="418.4" y="139.8" font-size="8.6" text-anchor="end" fill="#222">10<tspan font-size="5.6" dy="-2.9">1</tspan></text>
<line x1="432.8" y1="136.6" x2="432.8" y2="139.2" stroke="#222" stroke-width="0.9"/>
<line x1="453.6" y1="136.6" x2="453.6" y2="139.2" stroke="#222" stroke-width="0.9"/>
<text x="431.9" y="148.9" font-size="9.2" text-anchor="middle" fill="#222" textLength="19.8" lengthAdjust="spacingAndGlyphs">CCR9</text>
<text x="456" y="148.9" font-size="9.2" text-anchor="middle" fill="#222" textLength="19.4" lengthAdjust="spacingAndGlyphs">CD19</text>
<text transform="translate(402.6 90.8) rotate(-90)" font-size="9.2" text-anchor="middle" fill="#222" textLength="13.5" lengthAdjust="spacingAndGlyphs">ABC</text>
<line x1="420.6" y1="85" x2="422.4" y2="85" stroke="#222" stroke-width="0.8"/>
<line x1="423" y1="85" x2="462.5" y2="85" stroke="#9a9a9a" stroke-width="0.9" stroke-dasharray="0.9 0.9"/>
<line x1="423" y1="106.7" x2="462.5" y2="106.7" stroke="#555" stroke-width="0.9" stroke-dasharray="0.9 0.9"/>
<text x="466" y="87.8" font-size="8.2" text-anchor="start" fill="#222" textLength="24.8" lengthAdjust="spacingAndGlyphs">Median</text>
<text x="466" y="96.6" font-size="8.2" text-anchor="start" fill="#222" textLength="47.8" lengthAdjust="spacingAndGlyphs">1°sample ABC</text>
<text x="467.7" y="109.4" font-size="8.2" text-anchor="start" fill="#222" textLength="40" lengthAdjust="spacingAndGlyphs">Background</text>
<rect x="431.3" y="65.4" width="3" height="3" fill="#3ac24a"/>
<circle cx="432.8" cy="73.8" r="1.5" fill="#d1103b"/>
<circle cx="432.8" cy="95.1" r="1.3" fill="#0f5f4f"/>
<circle cx="432.8" cy="107.9" r="1.5" fill="#5b2a86"/>
<circle cx="432.8" cy="109.8" r="1.5" fill="#1b4f8e"/>
<circle cx="453.8" cy="45.1" r="1.3" fill="#0f5f4f"/>
<circle cx="453.6" cy="115.6" r="1.6" fill="#d1103b"/>
<circle cx="453.6" cy="117.4" r="1.4" fill="#0f5f4f"/>
<circle cx="466.9" cy="20.8" r="1.55" fill="#d1103b"/>
<circle cx="466.9" cy="29.5" r="1.55" fill="#1b4f8e"/>
<rect x="465.4" y="36.7" width="3" height="3" fill="#3ac24a"/>
<rect x="465.4" y="45.4" width="3" height="3" fill="#5b2a86"/>
<path d="M466.9,54.099999999999994 L468.5,57.099999999999994 H465.3 Z" fill="#f39a1e"/>
<circle cx="466.9" cy="64.6" r="1.55" fill="#0f5f4f"/>
<text x="470.5" y="23.6" font-size="7.8" text-anchor="start" fill="#222" textLength="11.5" lengthAdjust="spacingAndGlyphs">P12</text>
<text x="470.5" y="32.3" font-size="7.8" text-anchor="start" fill="#222" textLength="25.6" lengthAdjust="spacingAndGlyphs">P12-KO</text>
<text x="470.5" y="41.0" font-size="7.8" text-anchor="start" fill="#222" textLength="21" lengthAdjust="spacingAndGlyphs">PF382</text>
<text x="470.5" y="49.7" font-size="7.8" text-anchor="start" fill="#222" textLength="35.2" lengthAdjust="spacingAndGlyphs">PF382-KO</text>
<text x="470.5" y="58.6" font-size="7.8" text-anchor="start" fill="#222" textLength="22.2" lengthAdjust="spacingAndGlyphs">Molt-4</text>
<text x="470.5" y="67.4" font-size="7.8" text-anchor="start" fill="#222" textLength="42" lengthAdjust="spacingAndGlyphs">SupT1-CD19</text>
</g>
<g id="E">
<text x="6" y="190" font-size="11" font-weight="bold">E</text>
<rect x="68.7" y="234.2" width="7.1" height="96.3" fill="#97da98"/>
<rect x="79.8" y="319.8" width="7.1" height="10.7" fill="#e47f8f"/>
<rect x="98.5" y="244.6" width="7.3" height="85.9" fill="#97da98"/>
<rect x="109.6" y="251.5" width="7.5" height="79.0" fill="#e47f8f"/>
<rect x="128.3" y="227.9" width="7.7" height="102.6" fill="#97da98"/>
<rect x="139.4" y="316.9" width="7.1" height="13.6" fill="#e47f8f"/>
<rect x="158.1" y="226.5" width="7.3" height="104.0" fill="#97da98"/>
<rect x="169.2" y="248" width="7.3" height="82.5" fill="#e47f8f"/>
<rect x="188" y="226" width="7.8" height="104.5" fill="#97da98"/>
<rect x="199.6" y="297.7" width="7.5" height="32.8" fill="#e47f8f"/>
<rect x="218.3" y="323.7" width="7.1" height="6.8" fill="#97da98"/>
<rect x="229.2" y="316.5" width="7.3" height="14.0" fill="#e47f8f"/>
<path d="M72.3,219.6 V248.5 M70.5,219.6 H74.1 M70.5,248.5 H74.1" stroke="#222" stroke-width="0.8" fill="none"/>
<path d="M83.4,313.0 V327.0 M81.6,313.0 H85.2 M81.6,327.0 H85.2" stroke="#222" stroke-width="0.8" fill="none"/>
<path d="M102.2,235.6 V256.7 M100.4,235.6 H104.0 M100.4,256.7 H104.0" stroke="#222" stroke-width="0.8" fill="none"/>
<path d="M113.4,234.6 V268.0 M111.6,234.6 H115.2 M111.6,268.0 H115.2" stroke="#222" stroke-width="0.8" fill="none"/>
<path d="M132.1,223.0 V231.5 M130.3,223.0 H133.9 M130.3,231.5 H133.9" stroke="#222" stroke-width="0.8" fill="none"/>
<path d="M143.0,310.5 V321.0 M141.2,310.5 H144.8 M141.2,321.0 H144.8" stroke="#222" stroke-width="0.8" fill="none"/>
<path d="M161.7,216.0 V237.0 M159.9,216.0 H163.5 M159.9,237.0 H163.5" stroke="#222" stroke-width="0.8" fill="none"/>
<path d="M173.0,237.5 V258.0 M171.2,237.5 H174.8 M171.2,258.0 H174.8" stroke="#222" stroke-width="0.8" fill="none"/>
<path d="M192.0,221.0 V230.0 M190.2,221.0 H193.8 M190.2,230.0 H193.8" stroke="#222" stroke-width="0.8" fill="none"/>
<path d="M202.9,274.6 V320.4 M201.1,274.6 H204.7 M201.1,320.4 H204.7" stroke="#222" stroke-width="0.8" fill="none"/>
<path d="M221.8,321.5 V325.0 M220.0,321.5 H223.6 M220.0,325.0 H223.6" stroke="#222" stroke-width="0.8" fill="none"/>
<path d="M232.7,307.0 V324.0 M230.9,307.0 H234.5 M230.9,324.0 H234.5" stroke="#222" stroke-width="0.8" fill="none"/>
<circle cx="72.1" cy="212.9" r="2.0" fill="#2cb84b"/>
<circle cx="73.1" cy="231.2" r="2.0" fill="#2cb84b"/>
<circle cx="71.5" cy="235.2" r="2.0" fill="#2cb84b"/>
<circle cx="73.8" cy="238.1" r="2.0" fill="#2cb84b"/>
<circle cx="72.1" cy="252.9" r="2.0" fill="#2cb84b"/>
<circle cx="100.8" cy="233.1" r="2.0" fill="#2cb84b"/>
<circle cx="103.3" cy="230.4" r="2.0" fill="#2cb84b"/>
<circle cx="102.7" cy="240.0" r="2.0" fill="#2cb84b"/>
<circle cx="100.8" cy="245.2" r="2.0" fill="#2cb84b"/>
<circle cx="102.3" cy="253.5" r="2.0" fill="#2cb84b"/>
<circle cx="101.9" cy="263.8" r="2.0" fill="#2cb84b"/>
<circle cx="131.5" cy="222.1" r="2.0" fill="#2cb84b"/>
<circle cx="131.5" cy="224.6" r="2.0" fill="#2cb84b"/>
<circle cx="132.1" cy="227.3" r="2.0" fill="#2cb84b"/>
<circle cx="133.7" cy="229.8" r="2.0" fill="#2cb84b"/>
<circle cx="130.8" cy="232.7" r="2.0" fill="#2cb84b"/>
<circle cx="162.0" cy="214.4" r="2.0" fill="#2cb84b"/>
<circle cx="163.5" cy="213.8" r="2.0" fill="#2cb84b"/>
<circle cx="161.9" cy="222.7" r="2.0" fill="#2cb84b"/>
<circle cx="160.8" cy="230.8" r="2.0" fill="#2cb84b"/>
<circle cx="163.0" cy="232.3" r="2.0" fill="#2cb84b"/>
<circle cx="162.0" cy="240.0" r="2.0" fill="#2cb84b"/>
<circle cx="191.7" cy="220.2" r="2.0" fill="#2cb84b"/>
<circle cx="192.0" cy="222.1" r="2.0" fill="#2cb84b"/>
<circle cx="191.5" cy="225.4" r="2.0" fill="#2cb84b"/>
<circle cx="193.0" cy="227.9" r="2.0" fill="#2cb84b"/>
<circle cx="191.0" cy="230.8" r="2.0" fill="#2cb84b"/>
<circle cx="221.5" cy="322.3" r="2.0" fill="#2cb84b"/>
<circle cx="220.5" cy="323.5" r="2.0" fill="#2cb84b"/>
<circle cx="222.8" cy="323.5" r="2.0" fill="#2cb84b"/>
<circle cx="82.5" cy="311.7" r="2.0" fill="#d1103b"/>
<circle cx="84.6" cy="313.0" r="2.0" fill="#d1103b"/>
<circle cx="83.1" cy="318.5" r="2.0" fill="#d1103b"/>
<circle cx="84.2" cy="325.6" r="2.0" fill="#d1103b"/>
<circle cx="82.3" cy="328.0" r="2.0" fill="#d1103b"/>
<circle cx="113.3" cy="226.3" r="2.0" fill="#d1103b"/>
<circle cx="111.9" cy="242.7" r="2.0" fill="#d1103b"/>
<circle cx="114.8" cy="245.6" r="2.0" fill="#d1103b"/>
<circle cx="113.5" cy="254.2" r="2.0" fill="#d1103b"/>
<circle cx="113.8" cy="267.7" r="2.0" fill="#d1103b"/>
<circle cx="111.9" cy="270.2" r="2.0" fill="#d1103b"/>
<circle cx="142.9" cy="309.2" r="2.0" fill="#d1103b"/>
<circle cx="142.3" cy="312.1" r="2.0" fill="#d1103b"/>
<circle cx="143.5" cy="316.5" r="2.0" fill="#d1103b"/>
<circle cx="141.5" cy="321.3" r="2.0" fill="#d1103b"/>
<circle cx="143.5" cy="321.3" r="2.0" fill="#d1103b"/>
<circle cx="173.0" cy="232.1" r="2.0" fill="#d1103b"/>
<circle cx="173.0" cy="240.0" r="2.0" fill="#d1103b"/>
<circle cx="173.0" cy="246.7" r="2.0" fill="#d1103b"/>
<circle cx="171.5" cy="255.8" r="2.0" fill="#d1103b"/>
<circle cx="174.0" cy="254.8" r="2.0" fill="#d1103b"/>
<circle cx="172.0" cy="257.7" r="2.0" fill="#d1103b"/>
<circle cx="202.9" cy="264.6" r="2.0" fill="#d1103b"/>
<circle cx="202.9" cy="281.7" r="2.0" fill="#d1103b"/>
<circle cx="202.9" cy="290.6" r="2.0" fill="#d1103b"/>
<circle cx="202.9" cy="306.9" r="2.0" fill="#d1103b"/>
<circle cx="202.9" cy="317.9" r="2.0" fill="#d1103b"/>
<circle cx="202.9" cy="324.0" r="2.0" fill="#d1103b"/>
<circle cx="232.7" cy="306.9" r="2.0" fill="#d1103b"/>
<circle cx="232.7" cy="317.9" r="2.0" fill="#d1103b"/>
<circle cx="232.7" cy="324.2" r="2.0" fill="#d1103b"/>
<path d="M64.5,195 V330.5 M61,330.5 H239.4" stroke="#222" stroke-width="1.2" fill="none"/>
<line x1="61.6" y1="330.5" x2="64.5" y2="330.5" stroke="#222" stroke-width="0.9"/>
<text x="58.4" y="333.3" font-size="8.2" text-anchor="end" fill="#222">0</text>
<line x1="61.6" y1="308.6" x2="64.5" y2="308.6" stroke="#222" stroke-width="0.9"/>
<text x="58.4" y="311.4" font-size="8.2" text-anchor="end" fill="#222">20</text>
<line x1="61.6" y1="286.7" x2="64.5" y2="286.7" stroke="#222" stroke-width="0.9"/>
<text x="58.4" y="289.5" font-size="8.2" text-anchor="end" fill="#222">40</text>
<line x1="61.6" y1="264.9" x2="64.5" y2="264.9" stroke="#222" stroke-width="0.9"/>
<text x="58.4" y="267.7" font-size="8.2" text-anchor="end" fill="#222">60</text>
<line x1="61.6" y1="243.0" x2="64.5" y2="243.0" stroke="#222" stroke-width="0.9"/>
<text x="58.4" y="245.8" font-size="8.2" text-anchor="end" fill="#222">80</text>
<line x1="61.6" y1="221.1" x2="64.5" y2="221.1" stroke="#222" stroke-width="0.9"/>
<text x="58.4" y="223.9" font-size="8.2" text-anchor="end" fill="#222">100</text>
<line x1="61.6" y1="199.2" x2="64.5" y2="199.2" stroke="#222" stroke-width="0.9"/>
<text x="58.4" y="202.0" font-size="8.2" text-anchor="end" fill="#222">120</text>
<line x1="77.8" y1="330.5" x2="77.8" y2="333.1" stroke="#222" stroke-width="0.9"/>
<line x1="107.7" y1="330.5" x2="107.7" y2="333.1" stroke="#222" stroke-width="0.9"/>
<line x1="137.5" y1="330.5" x2="137.5" y2="333.1" stroke="#222" stroke-width="0.9"/>
<line x1="167.3" y1="330.5" x2="167.3" y2="333.1" stroke="#222" stroke-width="0.9"/>
<line x1="197.6" y1="330.5" x2="197.6" y2="333.1" stroke="#222" stroke-width="0.9"/>
<line x1="227.5" y1="330.5" x2="227.5" y2="333.1" stroke="#222" stroke-width="0.9"/>
<path d="M71.9,208.1 V204.2 H83.6 V208.1" fill="none" stroke="#222" stroke-width="0.9"/>
<text x="77.8" y="205.2" font-size="10.3" text-anchor="middle" fill="#222">**</text>
<path d="M101.8,208.1 V204.2 H113.5 V208.1" fill="none" stroke="#222" stroke-width="0.9"/>
<text x="107.7" y="201.6" font-size="9" text-anchor="middle" fill="#222">ns</text>
<path d="M131.6,208.1 V204.2 H143.3 V208.1" fill="none" stroke="#222" stroke-width="0.9"/>
<text x="137.5" y="205.2" font-size="10.3" text-anchor="middle" fill="#222">****</text>
<path d="M161.4,208.1 V204.2 H173.1 V208.1" fill="none" stroke="#222" stroke-width="0.9"/>
<text x="167.3" y="205.2" font-size="10.3" text-anchor="middle" fill="#222">**</text>
<path d="M191.7,208.1 V204.2 H203.4 V208.1" fill="none" stroke="#222" stroke-width="0.9"/>
<text x="197.6" y="205.2" font-size="10.3" text-anchor="middle" fill="#222">**</text>
<path d="M221.6,208.1 V204.2 H233.3 V208.1" fill="none" stroke="#222" stroke-width="0.9"/>
<text x="227.5" y="201.6" font-size="9" text-anchor="middle" fill="#222">ns</text>
<circle cx="104.6" cy="188.1" r="1.9" fill="#2cb84b"/>
<text x="109.6" y="191.1" font-size="8.6" text-anchor="start" fill="#222" textLength="23.4" lengthAdjust="spacingAndGlyphs">CAR19</text>
<circle cx="143.1" cy="188.1" r="1.9" fill="#d1103b"/>
<text x="148.8" y="191.1" font-size="8.6" text-anchor="start" fill="#222" textLength="33.9" lengthAdjust="spacingAndGlyphs">CARCCR9</text>
<text transform="translate(28.9 262.8) rotate(-90)" font-size="9.5" text-anchor="middle" fill="#222" textLength="66.5" lengthAdjust="spacingAndGlyphs">% Targets remaining</text>
<text transform="translate(38.5 262.8) rotate(-90)" font-size="8.4" text-anchor="middle" fill="#222" textLength="41" lengthAdjust="spacingAndGlyphs">(norm to NT)</text>
<text x="77.8" y="342.7" font-size="8.6" text-anchor="middle" fill="#222" textLength="10.3" lengthAdjust="spacingAndGlyphs">P12</text>
<text x="107.7" y="342.7" font-size="8.6" text-anchor="middle" fill="#222" textLength="19" lengthAdjust="spacingAndGlyphs">P12KO</text>
<text x="137.5" y="342.7" font-size="8.6" text-anchor="middle" fill="#222" textLength="17.1" lengthAdjust="spacingAndGlyphs">PF382</text>
<text x="167.3" y="342.7" font-size="8.6" text-anchor="middle" fill="#222" textLength="25.5" lengthAdjust="spacingAndGlyphs">PF382KO</text>
<text x="197.6" y="342.7" font-size="8.6" text-anchor="middle" fill="#222" textLength="19.2" lengthAdjust="spacingAndGlyphs">MOLT4</text>
<text x="227.5" y="342.7" font-size="8.6" text-anchor="middle" fill="#222" textLength="35.5" lengthAdjust="spacingAndGlyphs">SUPT1-CD19</text>
<text x="7.5" y="353.2" font-size="8.6" text-anchor="start" fill="#222" textLength="47" lengthAdjust="spacingAndGlyphs">CCR9 density</text>
<text x="7.5" y="362.5" font-size="8.6" text-anchor="start" fill="#222" textLength="47" lengthAdjust="spacingAndGlyphs">CD19 density</text>
<text x="77.8" y="352.6" font-size="8.2" text-anchor="middle" fill="#222">++</text>
<text x="77.8" y="362.4" font-size="8.2" text-anchor="middle" fill="#222">–</text>
<text x="107.7" y="352.6" font-size="8.2" text-anchor="middle" fill="#222">–</text>
<text x="107.7" y="362.4" font-size="8.2" text-anchor="middle" fill="#222">–</text>
<text x="137.5" y="352.6" font-size="8.2" text-anchor="middle" fill="#222">+++</text>
<text x="137.5" y="362.4" font-size="8.2" text-anchor="middle" fill="#222">–</text>
<text x="167.3" y="352.6" font-size="8.2" text-anchor="middle" fill="#222">–</text>
<text x="167.3" y="362.4" font-size="8.2" text-anchor="middle" fill="#222">–</text>
<text x="197.6" y="352.6" font-size="8.2" text-anchor="middle" fill="#222">++</text>
<text x="197.6" y="362.4" font-size="8.2" text-anchor="middle" fill="#222">–</text>
<text x="227.5" y="352.6" font-size="8.2" text-anchor="middle" fill="#222">+</text>
<text x="227.5" y="362.4" font-size="8.2" text-anchor="middle" fill="#222">++++</text>
</g>
<g id="F">
<text x="260.8" y="190.2" font-size="11" font-weight="bold">F</text>
<rect x="350.7" y="293.2" width="5.6" height="37.2" fill="#e47f8f"/>
<rect x="380.7" y="324.5" width="5.6" height="5.9" fill="#e47f8f"/>
<rect x="410.6" y="304.4" width="5.6" height="26.0" fill="#e47f8f"/>
<rect x="440.5" y="326.5" width="5.6" height="3.9" fill="#e47f8f"/>
<rect x="470.4" y="273.0" width="5.6" height="57.4" fill="#e47f8f"/>
<rect x="492.2" y="291.1" width="5.6" height="39.3" fill="#97da98"/>
<rect x="500.4" y="294.6" width="5.6" height="35.8" fill="#e47f8f"/>
<path d="M353.5,263.4 V323.0 M352.0,263.4 H355.0 M352.0,323.0 H355.0" stroke="#222" stroke-width="0.8" fill="none"/>
<path d="M383.5,318.4 V329.0 M382.0,318.4 H385.0 M382.0,329.0 H385.0" stroke="#222" stroke-width="0.8" fill="none"/>
<path d="M413.4,293.2 V310.0 M411.9,293.2 H414.9 M411.9,310.0 H414.9" stroke="#222" stroke-width="0.8" fill="none"/>
<path d="M473.2,234.9 V311.0 M471.8,234.9 H474.8 M471.8,311.0 H474.8" stroke="#222" stroke-width="0.8" fill="none"/>
<path d="M495.0,285.5 V297.0 M493.5,285.5 H496.5 M493.5,297.0 H496.5" stroke="#222" stroke-width="0.8" fill="none"/>
<path d="M503.2,289.0 V301.0 M501.7,289.0 H504.7 M501.7,301.0 H504.7" stroke="#222" stroke-width="0.8" fill="none"/>
<circle cx="306.6" cy="329.2" r="2.0" fill="#1b4f8e"/>
<circle cx="307.8" cy="329.2" r="2.0" fill="#1b4f8e"/>
<circle cx="314.8" cy="329.3" r="2.0" fill="#2cb84b"/>
<circle cx="316.0" cy="329.3" r="2.0" fill="#2cb84b"/>
<circle cx="336.5" cy="329.2" r="2.0" fill="#1b4f8e"/>
<circle cx="337.7" cy="329.2" r="2.0" fill="#1b4f8e"/>
<circle cx="344.7" cy="329.3" r="2.0" fill="#2cb84b"/>
<circle cx="345.9" cy="329.3" r="2.0" fill="#2cb84b"/>
<circle cx="366.5" cy="329.2" r="2.0" fill="#1b4f8e"/>
<circle cx="367.7" cy="329.2" r="2.0" fill="#1b4f8e"/>
<circle cx="374.7" cy="329.3" r="2.0" fill="#2cb84b"/>
<circle cx="375.9" cy="329.3" r="2.0" fill="#2cb84b"/>
<circle cx="396.4" cy="329.2" r="2.0" fill="#1b4f8e"/>
<circle cx="397.6" cy="329.2" r="2.0" fill="#1b4f8e"/>
<circle cx="404.6" cy="329.3" r="2.0" fill="#2cb84b"/>
<circle cx="405.8" cy="329.3" r="2.0" fill="#2cb84b"/>
<circle cx="426.3" cy="329.2" r="2.0" fill="#1b4f8e"/>
<circle cx="427.5" cy="329.2" r="2.0" fill="#1b4f8e"/>
<circle cx="434.5" cy="329.3" r="2.0" fill="#2cb84b"/>
<circle cx="435.7" cy="329.3" r="2.0" fill="#2cb84b"/>
<circle cx="456.2" cy="329.2" r="2.0" fill="#1b4f8e"/>
<circle cx="457.5" cy="329.2" r="2.0" fill="#1b4f8e"/>
<circle cx="464.5" cy="329.3" r="2.0" fill="#2cb84b"/>
<circle cx="465.7" cy="329.3" r="2.0" fill="#2cb84b"/>
<circle cx="486.2" cy="329.2" r="2.0" fill="#1b4f8e"/>
<circle cx="487.4" cy="329.2" r="2.0" fill="#1b4f8e"/>
<circle cx="323.6" cy="328.3" r="2.0" fill="#d1103b"/>
<circle cx="324.4" cy="328.6" r="2.0" fill="#d1103b"/>
<circle cx="353.5" cy="247.8" r="2.0" fill="#d1103b"/>
<circle cx="353.5" cy="286.2" r="2.0" fill="#d1103b"/>
<circle cx="353.5" cy="293.2" r="2.0" fill="#d1103b"/>
<circle cx="353.5" cy="317.4" r="2.0" fill="#d1103b"/>
<circle cx="353.5" cy="322.6" r="2.0" fill="#d1103b"/>
<circle cx="383.5" cy="313.5" r="2.0" fill="#d1103b"/>
<circle cx="383.5" cy="323.6" r="2.0" fill="#d1103b"/>
<circle cx="383.5" cy="327.0" r="2.0" fill="#d1103b"/>
<circle cx="413.4" cy="295.8" r="2.0" fill="#d1103b"/>
<circle cx="412.4" cy="298.4" r="2.0" fill="#d1103b"/>
<circle cx="414.4" cy="300.2" r="2.0" fill="#d1103b"/>
<circle cx="413.4" cy="315.3" r="2.0" fill="#d1103b"/>
<circle cx="413.4" cy="321.3" r="2.0" fill="#d1103b"/>
<circle cx="443.3" cy="321.3" r="2.0" fill="#d1103b"/>
<circle cx="442.3" cy="325.7" r="2.0" fill="#d1103b"/>
<circle cx="444.3" cy="327.5" r="2.0" fill="#d1103b"/>
<circle cx="473.2" cy="224.5" r="2.0" fill="#d1103b"/>
<circle cx="472.4" cy="246.5" r="2.0" fill="#d1103b"/>
<circle cx="474.2" cy="249.9" r="2.0" fill="#d1103b"/>
<circle cx="473.2" cy="288.0" r="2.0" fill="#d1103b"/>
<circle cx="473.2" cy="309.6" r="2.0" fill="#d1103b"/>
<circle cx="473.2" cy="320.0" r="2.0" fill="#d1103b"/>
<circle cx="495.0" cy="286.7" r="2.0" fill="#2cb84b"/>
<circle cx="495.0" cy="291.9" r="2.0" fill="#2cb84b"/>
<circle cx="495.0" cy="296.6" r="2.0" fill="#2cb84b"/>
<circle cx="503.2" cy="290.0" r="2.0" fill="#d1103b"/>
<circle cx="503.2" cy="294.6" r="2.0" fill="#d1103b"/>
<circle cx="503.2" cy="302.3" r="2.0" fill="#d1103b"/>
<path d="M301.7,188.2 V330.4 M298.8,330.4 H508" stroke="#222" stroke-width="1.2" fill="none"/>
<line x1="298.4" y1="330.4" x2="301.7" y2="330.4" stroke="#222" stroke-width="0.9"/>
<text x="295.8" y="333.4" font-size="8.1" text-anchor="end" fill="#222">0</text>
<line x1="298.4" y1="302.8" x2="301.7" y2="302.8" stroke="#222" stroke-width="0.9"/>
<text x="295.8" y="305.8" font-size="8.1" text-anchor="end" fill="#222">2000</text>
<line x1="298.4" y1="275.2" x2="301.7" y2="275.2" stroke="#222" stroke-width="0.9"/>
<text x="295.8" y="278.2" font-size="8.1" text-anchor="end" fill="#222">4000</text>
<line x1="298.4" y1="247.6" x2="301.7" y2="247.6" stroke="#222" stroke-width="0.9"/>
<text x="295.8" y="250.6" font-size="8.1" text-anchor="end" fill="#222">6000</text>
<line x1="298.4" y1="220.0" x2="301.7" y2="220.0" stroke="#222" stroke-width="0.9"/>
<text x="295.8" y="223.0" font-size="8.1" text-anchor="end" fill="#222">8000</text>
<line x1="298.4" y1="192.4" x2="301.7" y2="192.4" stroke="#222" stroke-width="0.9"/>
<text x="295.8" y="195.4" font-size="8.1" text-anchor="end" fill="#222">10000</text>
<line x1="315.4" y1="330.4" x2="315.4" y2="333.0" stroke="#222" stroke-width="0.9"/>
<line x1="345.3" y1="330.4" x2="345.3" y2="333.0" stroke="#222" stroke-width="0.9"/>
<line x1="375.3" y1="330.4" x2="375.3" y2="333.0" stroke="#222" stroke-width="0.9"/>
<line x1="405.2" y1="330.4" x2="405.2" y2="333.0" stroke="#222" stroke-width="0.9"/>
<line x1="435.1" y1="330.4" x2="435.1" y2="333.0" stroke="#222" stroke-width="0.9"/>
<line x1="465.1" y1="330.4" x2="465.1" y2="333.0" stroke="#222" stroke-width="0.9"/>
<line x1="495.0" y1="330.4" x2="495.0" y2="333.0" stroke="#222" stroke-width="0.9"/>
<path d="M306.9,203.1 V199.1 H323.8 V203.1" fill="none" stroke="#222" stroke-width="0.9"/>
<path d="M306.9,219.5 V215.7 H315.6 V219.5" fill="none" stroke="#222" stroke-width="0.9"/>
<text x="315.3" y="196.8" font-size="8.6" text-anchor="middle" fill="#222">ns</text>
<text x="311.2" y="211.8" font-size="8.6" text-anchor="middle" fill="#222">ns</text>
<path d="M336.8,203.1 V199.1 H353.7 V203.1" fill="none" stroke="#222" stroke-width="0.9"/>
<path d="M336.8,219.5 V215.7 H345.5 V219.5" fill="none" stroke="#222" stroke-width="0.9"/>
<text x="345.3" y="200.2" font-size="10.8" text-anchor="middle" fill="#222">****</text>
<text x="341.2" y="211.8" font-size="8.6" text-anchor="middle" fill="#222">ns</text>
<path d="M366.8,203.1 V199.1 H383.7 V203.1" fill="none" stroke="#222" stroke-width="0.9"/>
<path d="M366.8,219.5 V215.7 H375.5 V219.5" fill="none" stroke="#222" stroke-width="0.9"/>
<text x="375.2" y="196.8" font-size="8.6" text-anchor="middle" fill="#222">ns</text>
<text x="371.1" y="211.8" font-size="8.6" text-anchor="middle" fill="#222">ns</text>
<path d="M396.7,203.1 V199.1 H413.6 V203.1" fill="none" stroke="#222" stroke-width="0.9"/>
<path d="M396.7,219.5 V215.7 H405.4 V219.5" fill="none" stroke="#222" stroke-width="0.9"/>
<text x="405.1" y="200.2" font-size="10.8" text-anchor="middle" fill="#222">**</text>
<text x="401.0" y="211.8" font-size="8.6" text-anchor="middle" fill="#222">ns</text>
<path d="M426.6,203.1 V199.1 H443.5 V203.1" fill="none" stroke="#222" stroke-width="0.9"/>
<path d="M426.6,219.5 V215.7 H435.3 V219.5" fill="none" stroke="#222" stroke-width="0.9"/>
<text x="435.1" y="196.8" font-size="8.6" text-anchor="middle" fill="#222">ns</text>
<text x="431.0" y="211.8" font-size="8.6" text-anchor="middle" fill="#222">ns</text>
<path d="M456.6,203.1 V199.1 H473.5 V203.1" fill="none" stroke="#222" stroke-width="0.9"/>
<path d="M456.6,219.5 V215.7 H465.2 V219.5" fill="none" stroke="#222" stroke-width="0.9"/>
<text x="465.0" y="200.2" font-size="10.8" text-anchor="middle" fill="#222">****</text>
<text x="460.9" y="211.8" font-size="8.6" text-anchor="middle" fill="#222">ns</text>
<path d="M486.5,203.1 V199.1 H503.4 V203.1" fill="none" stroke="#222" stroke-width="0.9"/>
<path d="M486.5,219.5 V215.7 H495.2 V219.5" fill="none" stroke="#222" stroke-width="0.9"/>
<text x="494.9" y="200.2" font-size="10.8" text-anchor="middle" fill="#222">*</text>
<text x="490.8" y="215.9" font-size="10.8" text-anchor="middle" fill="#222">***</text>
<text transform="translate(268.2 259.6) rotate(-90)" font-size="8.7" text-anchor="middle" fill="#222" textLength="41.2" lengthAdjust="spacingAndGlyphs">IFNγ (pg/ml)</text>
<text x="315.4" y="342.3" font-size="8.3" text-anchor="middle" fill="#222" textLength="28.5" lengthAdjust="spacingAndGlyphs">EFF ALONE</text>
<text x="345.3" y="342.3" font-size="8.3" text-anchor="middle" fill="#222" textLength="10.4" lengthAdjust="spacingAndGlyphs">P12</text>
<text x="375.3" y="342.3" font-size="8.3" text-anchor="middle" fill="#222" textLength="18.2" lengthAdjust="spacingAndGlyphs">P12KO</text>
<text x="405.2" y="342.3" font-size="8.3" text-anchor="middle" fill="#222" textLength="17.5" lengthAdjust="spacingAndGlyphs">PF382</text>
<text x="435.1" y="342.3" font-size="8.3" text-anchor="middle" fill="#222" textLength="25.4" lengthAdjust="spacingAndGlyphs">PF382KO</text>
<text x="465.1" y="342.3" font-size="8.3" text-anchor="middle" fill="#222" textLength="19.6" lengthAdjust="spacingAndGlyphs">MOLT4</text>
<text x="495.0" y="342.3" font-size="8.3" text-anchor="middle" fill="#222" textLength="34.3" lengthAdjust="spacingAndGlyphs">SupT1-CD19</text>
<rect x="350.7" y="445.2" width="5.6" height="81.3" fill="#e47f8f"/>
<rect x="380.7" y="522.0" width="5.6" height="4.5" fill="#e47f8f"/>
<rect x="410.6" y="477.9" width="5.6" height="48.6" fill="#e47f8f"/>
<rect x="440.5" y="521.0" width="5.6" height="5.5" fill="#e47f8f"/>
<rect x="470.4" y="464.7" width="5.6" height="61.8" fill="#e47f8f"/>
<rect x="492.2" y="510.3" width="5.6" height="16.2" fill="#97da98"/>
<rect x="500.4" y="514.8" width="5.6" height="11.7" fill="#e47f8f"/>
<path d="M353.5,419.5 V469.3 M352.0,419.5 H355.0 M352.0,469.3 H355.0" stroke="#222" stroke-width="0.8" fill="none"/>
<path d="M413.4,456.0 V500.0 M411.9,456.0 H414.9 M411.9,500.0 H414.9" stroke="#222" stroke-width="0.8" fill="none"/>
<path d="M473.2,409.3 V520.0 M471.8,409.3 H474.8 M471.8,520.0 H474.8" stroke="#222" stroke-width="0.8" fill="none"/>
<path d="M495.0,506.0 V514.0 M493.5,506.0 H496.5 M493.5,514.0 H496.5" stroke="#222" stroke-width="0.8" fill="none"/>
<path d="M503.2,509.0 V520.0 M501.7,509.0 H504.7 M501.7,520.0 H504.7" stroke="#222" stroke-width="0.8" fill="none"/>
<circle cx="306.6" cy="524.4" r="2.0" fill="#1b4f8e"/>
<circle cx="307.8" cy="524.6" r="2.0" fill="#1b4f8e"/>
<circle cx="314.8" cy="524.7" r="2.0" fill="#2cb84b"/>
<circle cx="316.0" cy="524.7" r="2.0" fill="#2cb84b"/>
<circle cx="336.5" cy="524.4" r="2.0" fill="#1b4f8e"/>
<circle cx="337.7" cy="524.6" r="2.0" fill="#1b4f8e"/>
<circle cx="344.7" cy="524.7" r="2.0" fill="#2cb84b"/>
<circle cx="345.9" cy="524.7" r="2.0" fill="#2cb84b"/>
<circle cx="366.5" cy="524.4" r="2.0" fill="#1b4f8e"/>
<circle cx="367.7" cy="524.6" r="2.0" fill="#1b4f8e"/>
<circle cx="374.7" cy="524.7" r="2.0" fill="#2cb84b"/>
<circle cx="375.9" cy="524.7" r="2.0" fill="#2cb84b"/>
<circle cx="396.4" cy="524.4" r="2.0" fill="#1b4f8e"/>
<circle cx="397.6" cy="524.6" r="2.0" fill="#1b4f8e"/>
<circle cx="404.6" cy="524.7" r="2.0" fill="#2cb84b"/>
<circle cx="405.8" cy="524.7" r="2.0" fill="#2cb84b"/>
<circle cx="426.3" cy="524.4" r="2.0" fill="#1b4f8e"/>
<circle cx="427.5" cy="524.6" r="2.0" fill="#1b4f8e"/>
<circle cx="434.5" cy="524.7" r="2.0" fill="#2cb84b"/>
<circle cx="435.7" cy="524.7" r="2.0" fill="#2cb84b"/>
<circle cx="456.2" cy="524.4" r="2.0" fill="#1b4f8e"/>
<circle cx="457.5" cy="524.6" r="2.0" fill="#1b4f8e"/>
<circle cx="464.5" cy="524.7" r="2.0" fill="#2cb84b"/>
<circle cx="465.7" cy="524.7" r="2.0" fill="#2cb84b"/>
<circle cx="486.2" cy="524.4" r="2.0" fill="#1b4f8e"/>
<circle cx="487.4" cy="524.6" r="2.0" fill="#1b4f8e"/>
<circle cx="323.6" cy="519.5" r="2.0" fill="#d1103b"/>
<circle cx="323.6" cy="521.5" r="2.0" fill="#d1103b"/>
<circle cx="323.6" cy="523.5" r="2.0" fill="#d1103b"/>
<circle cx="383.5" cy="519.5" r="2.0" fill="#d1103b"/>
<circle cx="383.5" cy="521.5" r="2.0" fill="#d1103b"/>
<circle cx="383.5" cy="523.5" r="2.0" fill="#d1103b"/>
<circle cx="443.3" cy="519.5" r="2.0" fill="#d1103b"/>
<circle cx="443.3" cy="521.5" r="2.0" fill="#d1103b"/>
<circle cx="443.3" cy="523.5" r="2.0" fill="#d1103b"/>
<circle cx="353.5" cy="418.7" r="2.0" fill="#d1103b"/>
<circle cx="353.5" cy="419.3" r="2.0" fill="#d1103b"/>
<circle cx="353.5" cy="453.0" r="2.0" fill="#d1103b"/>
<circle cx="353.5" cy="459.0" r="2.0" fill="#d1103b"/>
<circle cx="353.5" cy="474.5" r="2.0" fill="#d1103b"/>
<circle cx="413.4" cy="456.3" r="2.0" fill="#d1103b"/>
<circle cx="412.4" cy="462.0" r="2.0" fill="#d1103b"/>
<circle cx="414.6" cy="466.0" r="2.0" fill="#d1103b"/>
<circle cx="413.4" cy="470.6" r="2.0" fill="#d1103b"/>
<circle cx="414.2" cy="503.9" r="2.0" fill="#d1103b"/>
<circle cx="412.8" cy="507.0" r="2.0" fill="#d1103b"/>
<circle cx="472.4" cy="401.5" r="2.0" fill="#d1103b"/>
<circle cx="473.9" cy="401.0" r="2.0" fill="#d1103b"/>
<circle cx="473.2" cy="446.5" r="2.0" fill="#d1103b"/>
<circle cx="472.4" cy="509.6" r="2.0" fill="#d1103b"/>
<circle cx="474.2" cy="510.3" r="2.0" fill="#d1103b"/>
<circle cx="473.2" cy="519.2" r="2.0" fill="#d1103b"/>
<circle cx="494.5" cy="506.2" r="2.0" fill="#2cb84b"/>
<circle cx="495.5" cy="509.6" r="2.0" fill="#2cb84b"/>
<circle cx="494.2" cy="510.9" r="2.0" fill="#2cb84b"/>
<circle cx="502.4" cy="509.6" r="2.0" fill="#d1103b"/>
<circle cx="505.0" cy="512.2" r="2.0" fill="#d1103b"/>
<circle cx="503.2" cy="521.2" r="2.0" fill="#d1103b"/>
<path d="M301.7,385.1 V526.5 M298.8,526.5 H508" stroke="#222" stroke-width="1.2" fill="none"/>
<line x1="298.4" y1="526.5" x2="301.7" y2="526.5" stroke="#222" stroke-width="0.9"/>
<text x="295.8" y="529.5" font-size="8.1" text-anchor="end" fill="#222">0</text>
<line x1="298.4" y1="492.2" x2="301.7" y2="492.2" stroke="#222" stroke-width="0.9"/>
<text x="295.8" y="495.2" font-size="8.1" text-anchor="end" fill="#222">500</text>
<line x1="298.4" y1="457.9" x2="301.7" y2="457.9" stroke="#222" stroke-width="0.9"/>
<text x="295.8" y="460.9" font-size="8.1" text-anchor="end" fill="#222">1000</text>
<line x1="298.4" y1="423.6" x2="301.7" y2="423.6" stroke="#222" stroke-width="0.9"/>
<text x="295.8" y="426.6" font-size="8.1" text-anchor="end" fill="#222">1500</text>
<line x1="298.4" y1="389.3" x2="301.7" y2="389.3" stroke="#222" stroke-width="0.9"/>
<text x="295.8" y="392.3" font-size="8.1" text-anchor="end" fill="#222">2000</text>
<line x1="315.4" y1="526.5" x2="315.4" y2="529.1" stroke="#222" stroke-width="0.9"/>
<line x1="345.3" y1="526.5" x2="345.3" y2="529.1" stroke="#222" stroke-width="0.9"/>
<line x1="375.3" y1="526.5" x2="375.3" y2="529.1" stroke="#222" stroke-width="0.9"/>
<line x1="405.2" y1="526.5" x2="405.2" y2="529.1" stroke="#222" stroke-width="0.9"/>
<line x1="435.1" y1="526.5" x2="435.1" y2="529.1" stroke="#222" stroke-width="0.9"/>
<line x1="465.1" y1="526.5" x2="465.1" y2="529.1" stroke="#222" stroke-width="0.9"/>
<line x1="495.0" y1="526.5" x2="495.0" y2="529.1" stroke="#222" stroke-width="0.9"/>
<path d="M306.9,379.9 V375.9 H323.8 V379.9" fill="none" stroke="#222" stroke-width="0.9"/>
<path d="M306.9,395.9 V392.1 H315.6 V395.9" fill="none" stroke="#222" stroke-width="0.9"/>
<text x="315.3" y="372.5" font-size="8.6" text-anchor="middle" fill="#222">ns</text>
<text x="311.2" y="389.4" font-size="8.6" text-anchor="middle" fill="#222">ns</text>
<path d="M336.8,379.9 V375.9 H353.7 V379.9" fill="none" stroke="#222" stroke-width="0.9"/>
<path d="M336.8,395.9 V392.1 H345.5 V395.9" fill="none" stroke="#222" stroke-width="0.9"/>
<text x="345.3" y="377.2" font-size="10.8" text-anchor="middle" fill="#222">****</text>
<text x="341.2" y="389.4" font-size="8.6" text-anchor="middle" fill="#222">ns</text>
<path d="M366.8,379.9 V375.9 H383.7 V379.9" fill="none" stroke="#222" stroke-width="0.9"/>
<path d="M366.8,395.9 V392.1 H375.5 V395.9" fill="none" stroke="#222" stroke-width="0.9"/>
<text x="375.2" y="372.5" font-size="8.6" text-anchor="middle" fill="#222">ns</text>
<text x="371.1" y="389.4" font-size="8.6" text-anchor="middle" fill="#222">ns</text>
<path d="M396.7,379.9 V375.9 H413.6 V379.9" fill="none" stroke="#222" stroke-width="0.9"/>
<path d="M396.7,395.9 V392.1 H405.4 V395.9" fill="none" stroke="#222" stroke-width="0.9"/>
<text x="405.1" y="377.2" font-size="10.8" text-anchor="middle" fill="#222">****</text>
<text x="401.0" y="389.4" font-size="8.6" text-anchor="middle" fill="#222">ns</text>
<path d="M426.6,379.9 V375.9 H443.5 V379.9" fill="none" stroke="#222" stroke-width="0.9"/>
<path d="M426.6,395.9 V392.1 H435.3 V395.9" fill="none" stroke="#222" stroke-width="0.9"/>
<text x="435.1" y="372.5" font-size="8.6" text-anchor="middle" fill="#222">ns</text>
<text x="431.0" y="389.4" font-size="8.6" text-anchor="middle" fill="#222">ns</text>
<path d="M456.6,379.9 V375.9 H473.5 V379.9" fill="none" stroke="#222" stroke-width="0.9"/>
<path d="M456.6,395.9 V392.1 H465.2 V395.9" fill="none" stroke="#222" stroke-width="0.9"/>
<text x="465.0" y="377.2" font-size="10.8" text-anchor="middle" fill="#222">****</text>
<text x="460.9" y="389.4" font-size="8.6" text-anchor="middle" fill="#222">ns</text>
<path d="M486.5,379.9 V375.9 H503.4 V379.9" fill="none" stroke="#222" stroke-width="0.9"/>
<path d="M486.5,395.9 V392.1 H495.2 V395.9" fill="none" stroke="#222" stroke-width="0.9"/>
<text x="494.9" y="372.5" font-size="8.6" text-anchor="middle" fill="#222">ns</text>
<text x="490.8" y="389.4" font-size="8.6" text-anchor="middle" fill="#222">ns</text>
<text transform="translate(272.2 457) rotate(-90)" font-size="8.2" text-anchor="middle" fill="#222" textLength="37.3" lengthAdjust="spacingAndGlyphs">IL2 (pg/ml)</text>
<text x="315.4" y="538.8" font-size="8.3" text-anchor="middle" fill="#222" textLength="28.5" lengthAdjust="spacingAndGlyphs">EFF ALONE</text>
<text x="345.3" y="538.8" font-size="8.3" text-anchor="middle" fill="#222" textLength="10.4" lengthAdjust="spacingAndGlyphs">P12</text>
<text x="375.3" y="538.8" font-size="8.3" text-anchor="middle" fill="#222" textLength="18.2" lengthAdjust="spacingAndGlyphs">P12KO</text>
<text x="405.2" y="538.8" font-size="8.3" text-anchor="middle" fill="#222" textLength="17.5" lengthAdjust="spacingAndGlyphs">PF382</text>
<text x="435.1" y="538.8" font-size="8.3" text-anchor="middle" fill="#222" textLength="25.4" lengthAdjust="spacingAndGlyphs">PF382KO</text>
<text x="465.1" y="538.8" font-size="8.3" text-anchor="middle" fill="#222" textLength="19.6" lengthAdjust="spacingAndGlyphs">MOLT4</text>
<text x="495.0" y="538.8" font-size="8.3" text-anchor="middle" fill="#222" textLength="34.3" lengthAdjust="spacingAndGlyphs">SupT1-CD19</text>
<circle cx="351.9" cy="553.7" r="2.2" fill="#1b4f8e"/>
<text x="356.2" y="556.6" font-size="8.6" text-anchor="start" fill="#222" textLength="10.5" lengthAdjust="spacingAndGlyphs">NT</text>
<circle cx="375.6" cy="553.7" r="2.2" fill="#2cb84b"/>
<text x="380.4" y="556.6" font-size="8.6" text-anchor="start" fill="#222" textLength="25.3" lengthAdjust="spacingAndGlyphs">CAR19</text>
<circle cx="414.4" cy="553.6" r="2.2" fill="#d1103b"/>
<text x="419.6" y="556.6" font-size="8.6" text-anchor="start" fill="#222" textLength="36.4" lengthAdjust="spacingAndGlyphs">CARCCR9</text>
</g>
<g id="G">
<text x="6.1" y="413.3" font-size="11" font-weight="bold">G</text>
<path d="M44,526.3 L48,525.9 L51.5,525 L54,523.5 L56,521.2 L57.8,516 L59.3,509 L60.5,502 L61.5,494.5 L62.4,489.7 L64,488.8 L66,487.8 L67.8,486.6 L68.8,486.4 L69.6,488.5 L70.4,492.5 L71.3,499 L72.2,507 L73,515 L73.8,520.8 L75.5,523.8 L78,525.3 L81,526.3 Z" fill="#8fda8f" stroke="#5cc45e" stroke-width="0.8"/>
<path d="M7,496.7 L17,496.5 L20,495.6 L24,494 L27.5,492.9 L30,491 L32,487.5 L33.8,484.4 L36,482 L37.6,479.6 L39.1,477.7 L40.3,478.8 L41.3,481.5 L42.5,479 L44.4,476 L46,473.5 L47.6,468.5 L48.7,461 L49.7,459 L50.8,462 L51.8,464.3 L52.8,460 L53.9,458.6 L55,461.5 L56,463.7 L57.2,460 L58.6,458 L59.6,461 L60.4,464.4 L61.3,465.4 L62.5,464.7 L63.5,465 L65,470 L66.5,476 L67.7,482.3 L69.5,487.5 L71.9,492.9 L74,495.3 L76.2,496.3 L80,496.7 L99.4,496.7 Z" fill="#c8283f" fill-opacity="0.6" stroke="#c9334f" stroke-width="0.8"/>
<text x="11" y="451.4" font-size="8.6" text-anchor="start" fill="#cc3a55" textLength="38.7" lengthAdjust="spacingAndGlyphs" stroke="#cc3a55">CARCCR9</text>
<text x="11" y="507.3" font-size="8.6" text-anchor="start" fill="#55c160" textLength="26" lengthAdjust="spacingAndGlyphs" stroke="#55c160">CAR19</text>
<path d="M6.8,433.2 H99.6 V526.3 H6.8 Z" fill="none" stroke="#222" stroke-width="1.2"/>
<line x1="12.7" y1="526.3" x2="12.7" y2="528.8" stroke="#222" stroke-width="0.8"/>
<text x="13.899999999999999" y="536.6" font-size="6.6" text-anchor="middle" fill="#222">−10<tspan font-size="4.1" dy="-2.5">4</tspan></text>
<line x1="30.7" y1="526.3" x2="30.7" y2="528.8" stroke="#222" stroke-width="0.8"/>
<text x="30.7" y="536.6" font-size="6.6" text-anchor="middle" fill="#222">0</text>
<line x1="50.1" y1="526.3" x2="50.1" y2="528.8" stroke="#222" stroke-width="0.8"/>
<text x="51.300000000000004" y="536.6" font-size="6.6" text-anchor="middle" fill="#222">10<tspan font-size="4.1" dy="-2.5">4</tspan></text>
<line x1="67.3" y1="526.3" x2="67.3" y2="528.8" stroke="#222" stroke-width="0.8"/>
<text x="68.5" y="536.6" font-size="6.6" text-anchor="middle" fill="#222">10<tspan font-size="4.1" dy="-2.5">5</tspan></text>
<line x1="83.6" y1="526.3" x2="83.6" y2="528.8" stroke="#222" stroke-width="0.8"/>
<text x="84.8" y="536.6" font-size="6.6" text-anchor="middle" fill="#222">10<tspan font-size="4.1" dy="-2.5">6</tspan></text>
<line x1="96.3" y1="526.3" x2="96.3" y2="528.8" stroke="#222" stroke-width="0.8"/>
<text x="97.5" y="536.6" font-size="6.6" text-anchor="middle" fill="#222">10<tspan font-size="4.1" dy="-2.5">7</tspan></text>
<g stroke="#222" stroke-width="0.6"><line x1="16.0" y1="526.3" x2="16.0" y2="527.9"/><line x1="19.0" y1="526.3" x2="19.0" y2="527.9"/><line x1="21.5" y1="526.3" x2="21.5" y2="527.9"/><line x1="23.5" y1="526.3" x2="23.5" y2="527.9"/><line x1="25.0" y1="526.3" x2="25.0" y2="527.9"/><line x1="26.5" y1="526.3" x2="26.5" y2="527.9"/><line x1="28.0" y1="526.3" x2="28.0" y2="527.9"/><line x1="29.5" y1="526.3" x2="29.5" y2="527.9"/><line x1="32.0" y1="526.3" x2="32.0" y2="527.9"/><line x1="33.5" y1="526.3" x2="33.5" y2="527.9"/><line x1="35.0" y1="526.3" x2="35.0" y2="527.9"/><line x1="37.0" y1="526.3" x2="37.0" y2="527.9"/><line x1="39.5" y1="526.3" x2="39.5" y2="527.9"/><line x1="43.0" y1="526.3" x2="43.0" y2="527.9"/><line x1="46.0" y1="526.3" x2="46.0" y2="527.9"/><line x1="55.3" y1="526.3" x2="55.3" y2="527.9"/><line x1="58.3" y1="526.3" x2="58.3" y2="527.9"/><line x1="60.5" y1="526.3" x2="60.5" y2="527.9"/><line x1="62.1" y1="526.3" x2="62.1" y2="527.9"/><line x1="63.5" y1="526.3" x2="63.5" y2="527.9"/><line x1="64.6" y1="526.3" x2="64.6" y2="527.9"/><line x1="65.6" y1="526.3" x2="65.6" y2="527.9"/><line x1="66.5" y1="526.3" x2="66.5" y2="527.9"/><line x1="72.2" y1="526.3" x2="72.2" y2="527.9"/><line x1="75.1" y1="526.3" x2="75.1" y2="527.9"/><line x1="77.1" y1="526.3" x2="77.1" y2="527.9"/><line x1="78.7" y1="526.3" x2="78.7" y2="527.9"/><line x1="80.0" y1="526.3" x2="80.0" y2="527.9"/><line x1="81.1" y1="526.3" x2="81.1" y2="527.9"/><line x1="82.0" y1="526.3" x2="82.0" y2="527.9"/><line x1="82.9" y1="526.3" x2="82.9" y2="527.9"/><line x1="87.4" y1="526.3" x2="87.4" y2="527.9"/><line x1="89.7" y1="526.3" x2="89.7" y2="527.9"/><line x1="91.2" y1="526.3" x2="91.2" y2="527.9"/><line x1="92.5" y1="526.3" x2="92.5" y2="527.9"/><line x1="93.5" y1="526.3" x2="93.5" y2="527.9"/><line x1="94.3" y1="526.3" x2="94.3" y2="527.9"/><line x1="95.1" y1="526.3" x2="95.1" y2="527.9"/><line x1="95.7" y1="526.3" x2="95.7" y2="527.9"/></g>
<line x1="11" y1="545.4" x2="46.5" y2="545.4" stroke="#222" stroke-width="1"/>
<path d="M8.3,545.4 L13.2,543 L12,545.4 L13.2,547.8 Z" fill="#222"/>
<text x="49.7" y="548.5" font-size="8.8" text-anchor="start" fill="#222" textLength="51.4" lengthAdjust="spacingAndGlyphs">CFSE dilution</text>
</g>
<g id="H">
<text x="107.6" y="413.2" font-size="11" font-weight="bold">H</text>
<path d="M136.3,425 V526.5 M133.5,526.5 H190.6" stroke="#222" stroke-width="1.2" fill="none"/>
<line x1="133.6" y1="526.5" x2="136.3" y2="526.5" stroke="#222" stroke-width="0.9"/>
<text x="131.6" y="529.6" font-size="8.7" text-anchor="end" fill="#222">0</text>
<line x1="133.6" y1="501.9" x2="136.3" y2="501.9" stroke="#222" stroke-width="0.9"/>
<text x="131.6" y="505.0" font-size="8.7" text-anchor="end" fill="#222">20</text>
<line x1="133.6" y1="477.3" x2="136.3" y2="477.3" stroke="#222" stroke-width="0.9"/>
<text x="131.6" y="480.4" font-size="8.7" text-anchor="end" fill="#222">40</text>
<line x1="133.6" y1="452.7" x2="136.3" y2="452.7" stroke="#222" stroke-width="0.9"/>
<text x="131.6" y="455.8" font-size="8.7" text-anchor="end" fill="#222">60</text>
<line x1="133.6" y1="428.1" x2="136.3" y2="428.1" stroke="#222" stroke-width="0.9"/>
<text x="131.6" y="431.2" font-size="8.7" text-anchor="end" fill="#222">80</text>
<line x1="152.8" y1="526.5" x2="152.8" y2="529.1" stroke="#222" stroke-width="0.9"/>
<line x1="177.9" y1="526.5" x2="177.9" y2="529.1" stroke="#222" stroke-width="0.9"/>
<path d="M152.8,443.9 V440.9 H178.5 V443.9" fill="none" stroke="#222" stroke-width="0.9"/>
<text x="165.5" y="442.1" font-size="10.5" text-anchor="middle" fill="#222">*</text>
<circle cx="178.2" cy="449.5" r="2.05" fill="#d1103b"/>
<circle cx="178.2" cy="457.7" r="2.05" fill="#d1103b"/>
<circle cx="178.2" cy="468.6" r="2.05" fill="#d1103b"/>
<line x1="170.1" y1="457.7" x2="186.4" y2="457.7" stroke="#d1103b" stroke-width="1.1"/>
<circle cx="146.4" cy="519.3" r="2.05" fill="#2cb84b"/>
<circle cx="153.1" cy="515.6" r="2.05" fill="#2cb84b"/>
<circle cx="159.4" cy="515.9" r="2.05" fill="#2cb84b"/>
<line x1="144.7" y1="515.3" x2="160.6" y2="515.3" stroke="#2cb84b" stroke-width="1.1"/>
<text transform="translate(115 478.8) rotate(-90)" font-size="9" text-anchor="middle" fill="#222" textLength="75" lengthAdjust="spacingAndGlyphs">% of CAR-T proliferated</text>
<text transform="translate(155.4 537.8) rotate(-45)" font-size="8.8" text-anchor="end" fill="#222" textLength="19.8" lengthAdjust="spacingAndGlyphs">CAR19</text>
<text transform="translate(180.5 537.8) rotate(-45)" font-size="8.8" text-anchor="end" fill="#222" textLength="32" lengthAdjust="spacingAndGlyphs">CARCCR9</text>
</g>
<g id="I">
<text x="191.6" y="413" font-size="11" font-weight="bold">I</text>
<path d="M217.8,438.5 V526.4 M215.2,526.4 H259.8" stroke="#222" stroke-width="1.2" fill="none"/>
<line x1="215.2" y1="526.4" x2="217.8" y2="526.4" stroke="#222" stroke-width="0.9"/>
<text x="212.8" y="529.5" font-size="8.7" text-anchor="end" fill="#222">0</text>
<line x1="215.2" y1="505.5" x2="217.8" y2="505.5" stroke="#222" stroke-width="0.9"/>
<text x="212.8" y="508.6" font-size="8.7" text-anchor="end" fill="#222">5</text>
<line x1="215.2" y1="484.5" x2="217.8" y2="484.5" stroke="#222" stroke-width="0.9"/>
<text x="212.8" y="487.6" font-size="8.7" text-anchor="end" fill="#222">10</text>
<line x1="215.2" y1="463.6" x2="217.8" y2="463.6" stroke="#222" stroke-width="0.9"/>
<text x="212.8" y="466.7" font-size="8.7" text-anchor="end" fill="#222">15</text>
<line x1="215.2" y1="442.7" x2="217.8" y2="442.7" stroke="#222" stroke-width="0.9"/>
<text x="212.8" y="445.8" font-size="8.7" text-anchor="end" fill="#222">20</text>
<line x1="230.6" y1="526.4" x2="230.6" y2="529.0" stroke="#222" stroke-width="0.9"/>
<line x1="250" y1="526.4" x2="250" y2="529.0" stroke="#222" stroke-width="0.9"/>
<path d="M230.5,460.4 V456.1 H249.5 V460.4" fill="none" stroke="#222" stroke-width="0.9"/>
<text x="240.3" y="457.1" font-size="10.5" text-anchor="middle" fill="#222">*</text>
<circle cx="249.9" cy="465.8" r="2.05" fill="#d1103b"/>
<circle cx="249.9" cy="475.9" r="2.05" fill="#d1103b"/>
<circle cx="249.9" cy="496.1" r="2.05" fill="#d1103b"/>
<line x1="243.4" y1="475.9" x2="256.1" y2="475.9" stroke="#d1103b" stroke-width="1.1"/>
<circle cx="226.2" cy="519.9" r="2.05" fill="#1b4f8e"/>
<circle cx="230.6" cy="519.9" r="2.05" fill="#1b4f8e"/>
<circle cx="235.2" cy="519.9" r="2.05" fill="#1b4f8e"/>
<line x1="225" y1="519.9" x2="236.5" y2="519.9" stroke="#1b4f8e" stroke-width="1"/>
<text transform="translate(198.4 484.5) rotate(-90)" font-size="8.8" text-anchor="middle" fill="#222" textLength="50" lengthAdjust="spacingAndGlyphs">Fold expansion</text>
<text transform="translate(233.4 537.8) rotate(-45)" font-size="8.8" text-anchor="end" fill="#222" textLength="9.5" lengthAdjust="spacingAndGlyphs">NT</text>
<text transform="translate(252.8 537.8) rotate(-45)" font-size="8.8" text-anchor="end" fill="#222" textLength="32" lengthAdjust="spacingAndGlyphs">CARCCR9</text>
</g>
<rect x="0.5" y="0.5" width="519" height="567" fill="none" stroke="#000" stroke-width="1"/>
</svg>
</body></html>
